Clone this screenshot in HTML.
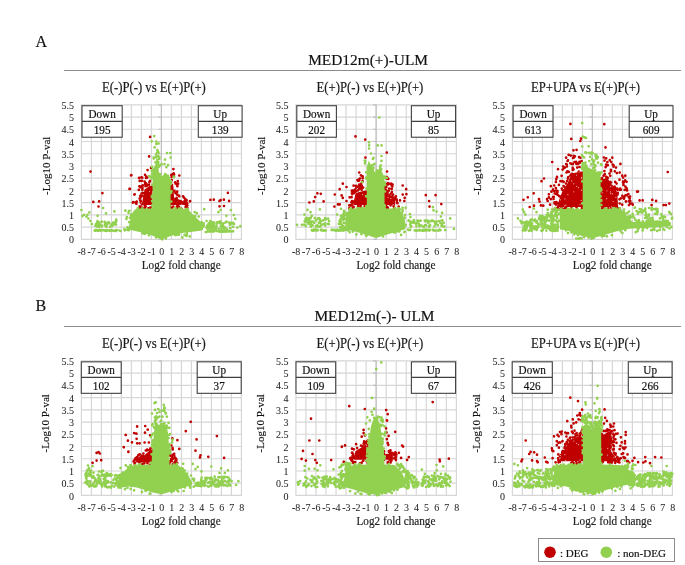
<!DOCTYPE html>
<html><head><meta charset="utf-8"><style>html,body{margin:0;padding:0;background:#fff;width:685px;height:565px;overflow:hidden;position:relative} text{stroke:#1a1a1a;stroke-width:0.18px;paint-order:stroke}</style></head>
<body>
<svg width="685" height="565" viewBox="0 0 685 565" style="position:absolute;left:0;top:0;will-change:transform;filter:blur(0.35px)" font-family="'Liberation Serif', serif">
<rect width="685" height="565" fill="#fff"/>
<text x="35.5" y="47.3" font-size="16" fill="#111">A</text>
<text x="35.5" y="311.4" font-size="16" fill="#111">B</text>
<text x="368.1" y="65" font-size="15.4" text-anchor="middle" fill="#111">MED12m(+)-ULM</text>
<text x="374.5" y="321.4" font-size="15.4" text-anchor="middle" fill="#111">MED12m(-)- ULM</text>
<line x1="64" y1="70.5" x2="681" y2="70.5" stroke="#8c8c8c" stroke-width="1"/>
<line x1="64" y1="326.5" x2="681" y2="326.5" stroke="#8c8c8c" stroke-width="1"/>
<text transform="translate(153.90 92.00) scale(1 1.08)" font-size="12.7" text-anchor="middle" fill="#1a1a1a">E(-)P(-) vs E(+)P(+)</text>
<path d="M81.40 104.3V239.8M91.40 104.3V239.8M101.40 104.3V239.8M111.40 104.3V239.8M121.40 104.3V239.8M131.40 104.3V239.8M141.40 104.3V239.8M151.40 104.3V239.8M161.40 104.3V239.8M171.40 104.3V239.8M181.40 104.3V239.8M191.40 104.3V239.8M201.40 104.3V239.8M211.40 104.3V239.8M221.40 104.3V239.8M231.40 104.3V239.8M241.40 104.3V239.8M80.9 239.30H241.9M80.9 227.08H241.9M80.9 214.85H241.9M80.9 202.62H241.9M80.9 190.40H241.9M80.9 178.18H241.9M80.9 165.95H241.9M80.9 153.73H241.9M80.9 141.50H241.9M80.9 129.28H241.9M80.9 117.05H241.9M80.9 104.83H241.9" stroke="#d6d6d6" stroke-width="1.15" fill="none"/>
<path d="M161.40 104.3V239.8M158.40 239.30H161.40M158.40 227.08H161.40M158.40 214.85H161.40M158.40 202.62H161.40M158.40 190.40H161.40M158.40 178.18H161.40M158.40 165.95H161.40M158.40 153.73H161.40M158.40 141.50H161.40M158.40 129.28H161.40M158.40 117.05H161.40M158.40 104.83H161.40" stroke="#bfbfbf" stroke-width="1.15" fill="none"/>
<text x="74.00" y="243.40" font-size="10" text-anchor="end" fill="#1e1e1e" style="stroke-width:0.05px">0</text>
<text x="74.00" y="231.18" font-size="10" text-anchor="end" fill="#1e1e1e" style="stroke-width:0.05px">0.5</text>
<text x="74.00" y="218.95" font-size="10" text-anchor="end" fill="#1e1e1e" style="stroke-width:0.05px">1</text>
<text x="74.00" y="206.72" font-size="10" text-anchor="end" fill="#1e1e1e" style="stroke-width:0.05px">1.5</text>
<text x="74.00" y="194.50" font-size="10" text-anchor="end" fill="#1e1e1e" style="stroke-width:0.05px">2</text>
<text x="74.00" y="182.28" font-size="10" text-anchor="end" fill="#1e1e1e" style="stroke-width:0.05px">2.5</text>
<text x="74.00" y="170.05" font-size="10" text-anchor="end" fill="#1e1e1e" style="stroke-width:0.05px">3</text>
<text x="74.00" y="157.83" font-size="10" text-anchor="end" fill="#1e1e1e" style="stroke-width:0.05px">3.5</text>
<text x="74.00" y="145.60" font-size="10" text-anchor="end" fill="#1e1e1e" style="stroke-width:0.05px">4</text>
<text x="74.00" y="133.38" font-size="10" text-anchor="end" fill="#1e1e1e" style="stroke-width:0.05px">4.5</text>
<text x="74.00" y="121.15" font-size="10" text-anchor="end" fill="#1e1e1e" style="stroke-width:0.05px">5</text>
<text x="74.00" y="108.93" font-size="10" text-anchor="end" fill="#1e1e1e" style="stroke-width:0.05px">5.5</text>
<text transform="translate(81.70 254.80) scale(1 1.08)" font-size="10" text-anchor="middle" fill="#1e1e1e" style="stroke-width:0.05px">-8</text>
<text transform="translate(91.70 254.80) scale(1 1.08)" font-size="10" text-anchor="middle" fill="#1e1e1e" style="stroke-width:0.05px">-7</text>
<text transform="translate(101.70 254.80) scale(1 1.08)" font-size="10" text-anchor="middle" fill="#1e1e1e" style="stroke-width:0.05px">-6</text>
<text transform="translate(111.70 254.80) scale(1 1.08)" font-size="10" text-anchor="middle" fill="#1e1e1e" style="stroke-width:0.05px">-5</text>
<text transform="translate(121.70 254.80) scale(1 1.08)" font-size="10" text-anchor="middle" fill="#1e1e1e" style="stroke-width:0.05px">-4</text>
<text transform="translate(131.70 254.80) scale(1 1.08)" font-size="10" text-anchor="middle" fill="#1e1e1e" style="stroke-width:0.05px">-3</text>
<text transform="translate(141.70 254.80) scale(1 1.08)" font-size="10" text-anchor="middle" fill="#1e1e1e" style="stroke-width:0.05px">-2</text>
<text transform="translate(151.70 254.80) scale(1 1.08)" font-size="10" text-anchor="middle" fill="#1e1e1e" style="stroke-width:0.05px">-1</text>
<text transform="translate(161.70 254.80) scale(1 1.08)" font-size="10" text-anchor="middle" fill="#1e1e1e" style="stroke-width:0.05px">0</text>
<text transform="translate(171.70 254.80) scale(1 1.08)" font-size="10" text-anchor="middle" fill="#1e1e1e" style="stroke-width:0.05px">1</text>
<text transform="translate(181.70 254.80) scale(1 1.08)" font-size="10" text-anchor="middle" fill="#1e1e1e" style="stroke-width:0.05px">2</text>
<text transform="translate(191.70 254.80) scale(1 1.08)" font-size="10" text-anchor="middle" fill="#1e1e1e" style="stroke-width:0.05px">3</text>
<text transform="translate(201.70 254.80) scale(1 1.08)" font-size="10" text-anchor="middle" fill="#1e1e1e" style="stroke-width:0.05px">4</text>
<text transform="translate(211.70 254.80) scale(1 1.08)" font-size="10" text-anchor="middle" fill="#1e1e1e" style="stroke-width:0.05px">5</text>
<text transform="translate(221.70 254.80) scale(1 1.08)" font-size="10" text-anchor="middle" fill="#1e1e1e" style="stroke-width:0.05px">6</text>
<text transform="translate(231.70 254.80) scale(1 1.08)" font-size="10" text-anchor="middle" fill="#1e1e1e" style="stroke-width:0.05px">7</text>
<text transform="translate(241.70 254.80) scale(1 1.08)" font-size="10" text-anchor="middle" fill="#1e1e1e" style="stroke-width:0.05px">8</text>
<text transform="translate(181.20 269.10) scale(1 1.07)" font-size="11.2" text-anchor="middle" fill="#222">Log2 fold change</text>
<text transform="translate(49.8,165.8) rotate(-90)" font-size="11" text-anchor="middle" fill="#111">-Log10 P-val</text>
<path d="M143.2 205.0L152.4 205.0L152.4 185.6L151.5 185.6L148.7 186.4L146.4 188.3L144.5 189.6L143.8 193.7L142.5 200.3ZM169.4 205.0L185.3 205.0L183.5 201.6L181.2 199.9L174.1 197.9L173.4 185.7L172.4 186.0L169.4 186.3Z" fill="#c00000"/>
<path d="M142.5 207.9h0M140.7 200.9h0M156.4 187.3h0M141.9 204.3h0M145.7 206.3h0M145.2 184.7h0M143.1 208.7h0M139.6 198.6h0M154.6 197.5h0M155.4 195.0h0M141.9 207.5h0M154.3 189.4h0M144.8 205.6h0M140.8 202.5h0M140.2 200.5h0M151.0 207.6h0M153.6 195.4h0M139.7 206.3h0M142.4 188.3h0M143.2 193.2h0M154.4 186.4h0M145.5 186.2h0M150.3 208.3h0M142.0 202.6h0M141.5 193.5h0M142.6 192.8h0M140.3 195.9h0M156.0 183.3h0M155.8 181.7h0M153.4 187.4h0M154.2 182.5h0M155.8 202.4h0M156.2 197.5h0M141.6 208.1h0M146.4 183.9h0M146.9 185.8h0M140.6 197.5h0M146.6 185.1h0M142.5 187.0h0M146.4 184.6h0M149.4 182.2h0M140.1 208.1h0M142.5 196.0h0M154.8 201.9h0M155.1 208.5h0M142.4 189.7h0M148.3 208.3h0M145.1 207.4h0M153.7 195.7h0M149.7 207.8h0M152.5 189.7h0M153.6 187.0h0M145.1 207.8h0M153.6 190.1h0M186.5 200.1h0M186.0 209.0h0M186.0 205.5h0M175.5 183.4h0M179.1 207.0h0M186.1 208.8h0M177.2 207.4h0M165.9 185.1h0M169.5 207.2h0M168.2 182.6h0M177.4 186.2h0M176.0 183.3h0M187.2 203.3h0M176.8 184.4h0M177.2 191.7h0M185.6 207.0h0M166.4 206.0h0M177.4 194.6h0M166.9 204.6h0M184.1 197.7h0M174.5 190.9h0M185.1 203.4h0M186.8 206.0h0M165.8 199.8h0M171.4 208.6h0M173.3 206.5h0M166.8 186.0h0M186.1 201.4h0M168.0 204.4h0M167.8 190.8h0M183.1 196.4h0M177.0 206.4h0M165.5 202.9h0M169.1 199.4h0M185.5 199.4h0M179.3 196.5h0M169.2 200.9h0M186.2 208.6h0M171.9 184.8h0M172.0 208.9h0M166.9 206.6h0M167.8 199.2h0M184.5 201.2h0M178.2 205.8h0M170.9 185.6h0M175.4 192.9h0M176.9 194.4h0M176.6 197.8h0M175.8 193.0h0M187.6 208.3h0M171.3 207.5h0M166.0 190.5h0M181.5 208.8h0M166.1 193.7h0M176.9 208.2h0M179.1 195.7h0M169.6 205.3h0M186.6 200.3h0M169.0 207.6h0M175.7 198.3h0M184.9 200.7h0M176.7 198.6h0M186.3 202.7h0M142.7 185.4h0M140.5 186.5h0M139.4 186.3h0M146.3 176.7h0M144.6 181.6h0M150.0 180.9h0M145.2 183.2h0M142.2 177.7h0M149.0 184.9h0M140.3 187.2h0M147.2 177.6h0M146.0 178.0h0M141.9 180.8h0M141.5 177.3h0M145.8 183.2h0M171.6 176.9h0M175.1 182.4h0M171.8 180.1h0M174.1 174.5h0M171.0 182.5h0M178.1 183.7h0M171.6 175.8h0M172.3 174.7h0M171.3 174.9h0M173.9 176.3h0M90.5 171.6h0M102.4 193.1h0M93.3 201.9h0M99.1 201.4h0M98.5 206.5h0M131.1 175.5h0M129.5 188.9h0M134.3 194.6h0M132.8 202.6h0M136.4 203.8h0M135.4 202.6h0M150.1 136.9h0M149.1 156.4h0M151.1 167.9h0M147.6 170.1h0M131.4 175.2h0M145.0 174.8h0M139.1 177.9h0M139.7 180.9h0M129.9 188.9h0M134.7 194.3h0M133.2 202.1h0M136.8 201.6h0M138.8 189.9h0M173.4 169.1h0M173.7 173.3h0M179.3 175.5h0M177.8 181.1h0M190.1 201.2h0M189.9 201.4h0M187.4 205.6h0M210.4 199.9h0M213.8 199.7h0M219.5 200.9h0M220.6 200.2h0M223.9 199.7h0M227.9 192.8h0M229.1 200.9h0M219.5 206.3h0M224.0 206.0h0" stroke="#c00000" stroke-width="2.7" stroke-linecap="round" fill="none"/>
<path d="M151.1 185.4h0M156.4 205.4h0M152.2 194.3h0M153.9 187.8h0M149.5 191.5h0M147.2 208.9h0M141.7 202.8h0M152.7 183.2h0M175.3 197.0h0M178.9 197.7h0M185.2 209.0h0M181.9 204.3h0M179.2 194.2h0M186.2 209.8h0M179.3 199.0h0M166.0 205.8h0" stroke="#fff" stroke-width="1.2" stroke-linecap="round" fill="none" opacity="0.7"/>
<path d="M156.7 161.6L155.6 164.3L153.4 168.0L152.6 170.0L152.6 208.6L136.8 208.6L135.1 209.4L132.9 212.1L131.3 215.5L130.2 220.1L129.2 225.2L127.8 228.5L128.0 229.6L131.7 230.2L140.7 232.2L152.0 235.6L161.4 239.6L170.9 236.1L182.1 233.1L194.5 231.4L200.1 230.7L203.1 229.9L203.1 223.5L201.3 222.4L197.9 219.3L194.1 215.6L190.5 211.9L188.1 209.3L170.6 208.5L170.6 179.7L169.0 174.7L166.4 173.9L164.3 174.5L161.7 176.3L159.2 174.2L158.5 168.8L157.7 166.4Z" fill="#92d050"/>
<path d="M151.9 171.1h0M171.4 191.2h0M128.9 230.2h0M152.3 177.0h0M152.0 201.1h0M203.1 226.8h0M186.0 209.2h0M195.2 216.2h0M148.9 235.2h0M144.8 233.9h0M178.3 234.3h0M165.1 174.1h0M142.3 208.4h0M127.4 227.7h0M170.8 183.9h0M152.2 174.3h0M156.8 161.6h0M137.9 208.1h0M178.9 234.7h0M159.7 174.0h0M127.4 227.4h0M165.9 238.4h0M152.4 184.7h0M130.0 217.8h0M176.3 235.0h0M158.7 167.1h0M152.5 208.3h0M171.0 181.2h0M171.3 201.5h0M201.6 222.2h0M171.0 192.9h0M175.4 208.0h0M171.1 192.4h0M158.0 164.2h0M170.6 184.2h0M143.1 233.4h0M131.1 215.8h0M151.9 197.1h0M160.4 174.3h0M175.2 235.1h0M129.1 222.0h0M152.1 173.9h0M151.8 196.4h0M179.0 208.5h0M162.3 239.3h0M127.5 229.9h0M170.7 183.5h0M151.9 178.5h0M187.9 209.2h0M155.5 162.4h0M131.2 214.4h0M131.2 215.2h0M203.8 225.5h0M157.1 161.5h0M152.6 195.5h0M158.3 166.0h0M203.7 223.4h0M186.9 232.9h0M158.2 165.9h0M152.0 170.0h0M156.2 237.4h0M142.6 233.0h0M181.1 208.8h0M152.4 205.2h0M129.3 222.3h0M157.9 151.8h0M161.6 164.2h0M196.8 213.2h0M158.1 151.7h0M184.6 234.9h0M205.8 232.1h0M156.2 157.3h0M149.2 176.2h0M124.3 229.0h0M189.8 236.4h0M126.9 217.1h0M159.4 157.2h0M186.6 235.9h0M173.6 176.7h0M126.4 219.0h0M182.4 237.4h0M129.5 210.8h0M128.9 211.2h0M159.9 165.4h0M152.0 166.9h0M159.2 159.0h0M158.5 153.1h0M153.7 158.6h0M194.7 212.1h0M128.5 213.0h0M174.1 177.1h0M150.4 176.6h0M186.9 234.7h0M154.2 136.1h0M151.7 141.3h0M156.3 141.5h0M156.4 143.9h0M158.6 143.5h0M154.7 147.4h0M157.3 150.1h0M157.3 152.5h0M156.0 154.7h0M153.7 157.4h0M158.3 156.2h0M157.4 159.8h0M158.4 162.3h0M167.0 153.0h0M170.3 153.0h0M165.0 159.6h0M170.6 157.6h0M164.5 164.0h0M168.1 165.0h0M166.4 167.2h0M81.4 210.0h0M89.4 212.4h0M87.4 214.9h0M86.4 216.6h0M88.4 218.5h0M90.4 221.0h0M91.9 224.1h0M103.1 208.0h0M97.6 215.8h0M106.0 213.4h0M114.4 211.4h0M125.4 210.7h0M116.2 219.5h0M125.5 210.7h0M204.3 209.2h0M198.7 216.6h0M220.6 210.0h0M218.4 212.2h0M230.9 210.0h0M226.4 215.8h0M233.8 215.1h0M235.3 218.8h0M240.4 226.1h0M237.4 227.6h0M83.9 214.9h0M82.4 216.1h0M104.9 223.7h0M114.8 224.2h0M106.1 223.5h0M99.3 223.9h0M108.6 222.2h0M97.4 225.2h0M97.3 222.1h0M110.0 226.8h0M116.0 221.2h0M109.1 223.3h0M98.7 227.0h0M106.5 226.7h0M99.4 225.6h0M96.0 224.2h0M104.7 221.9h0M106.3 223.2h0M105.9 223.0h0M105.0 225.4h0M116.4 221.0h0M113.0 222.7h0M102.0 225.7h0M101.5 226.6h0M111.5 224.6h0M113.2 224.7h0M115.5 221.9h0M95.4 225.8h0M114.5 224.2h0M116.0 224.6h0M96.9 223.2h0M111.7 225.4h0M97.2 225.0h0M115.6 222.4h0M97.9 225.6h0M97.5 226.7h0M112.1 226.0h0M107.1 224.3h0M99.4 222.6h0M98.2 223.1h0M97.8 224.5h0M99.9 225.4h0M115.8 222.2h0M101.8 221.7h0M99.8 224.7h0M113.3 223.2h0M97.5 221.0h0M109.1 230.3h0M115.1 230.8h0M94.7 230.6h0M102.9 230.2h0M115.8 230.4h0M111.7 230.3h0M98.9 230.6h0M99.4 230.1h0M96.2 230.2h0M96.7 230.3h0M104.8 230.6h0M120.5 231.0h0M96.3 230.1h0M110.2 230.9h0M125.0 230.1h0M97.9 230.6h0M98.6 230.7h0M113.7 230.8h0M116.0 230.9h0M99.7 230.2h0M106.8 230.6h0M112.9 230.5h0M106.3 231.0h0M116.9 230.0h0M124.7 230.3h0M105.4 230.6h0M115.8 230.3h0M97.9 230.8h0M105.7 230.5h0M119.5 230.5h0M95.3 230.2h0M107.7 230.5h0M101.3 230.6h0M106.4 230.2h0M97.6 230.4h0M99.9 230.3h0M95.5 230.7h0M105.1 230.4h0M96.0 230.5h0M100.9 230.7h0M213.7 224.0h0M225.6 222.4h0M211.6 228.3h0M210.5 228.4h0M227.0 229.3h0M221.3 228.5h0M214.7 226.4h0M229.9 224.7h0M206.8 227.9h0M210.5 222.2h0M229.1 222.8h0M229.5 223.4h0M233.0 222.9h0M213.6 222.4h0M220.0 223.3h0M222.2 226.4h0M216.6 226.4h0M215.2 229.4h0M229.4 222.9h0M234.0 223.9h0M221.9 223.4h0M210.2 224.0h0M218.8 228.8h0M212.1 225.5h0M213.5 226.1h0M223.4 226.7h0M210.1 225.8h0M213.0 228.3h0M211.8 227.0h0M208.5 224.3h0M233.1 226.8h0M226.5 221.6h0M207.6 229.1h0M229.0 222.5h0M224.3 229.0h0M218.0 222.2h0M231.2 222.8h0M212.1 222.4h0M216.9 223.7h0M210.2 221.2h0M223.3 223.6h0M212.3 224.6h0M222.7 224.9h0M216.5 223.6h0M216.0 227.7h0M211.0 224.0h0M209.5 228.3h0M208.3 224.4h0M222.0 225.3h0M207.5 226.3h0M216.0 229.6h0M206.5 221.0h0M209.8 227.6h0M213.9 224.8h0M208.6 226.0h0M216.7 222.5h0M206.6 227.3h0M220.3 221.3h0M220.9 226.0h0M225.1 227.7h0M207.3 225.7h0M231.9 223.5h0M213.6 224.0h0M230.2 228.0h0M222.9 227.1h0M213.2 227.8h0M212.1 227.2h0M207.5 226.7h0M208.8 223.3h0M223.2 230.5h0M208.4 231.0h0M223.7 230.8h0M213.0 231.5h0M226.0 231.1h0M213.9 231.1h0M216.5 231.0h0M208.7 231.5h0M230.6 231.4h0M212.7 230.9h0M223.1 231.6h0M220.8 231.1h0M210.0 231.1h0M208.8 231.4h0M207.7 231.5h0M232.8 231.3h0M233.1 231.3h0M222.4 230.9h0M224.6 231.6h0M221.9 231.1h0M210.5 231.6h0M229.9 231.2h0M210.8 231.3h0M211.5 230.9h0M219.4 231.6h0M228.3 231.6h0M213.3 231.7h0M226.1 231.6h0M220.1 231.6h0M218.9 231.1h0M220.4 231.3h0M219.0 231.3h0M222.1 231.6h0M218.7 231.5h0M229.6 230.8h0M207.3 231.6h0" stroke="#92d050" stroke-width="2.7" stroke-linecap="round" fill="none"/>
<rect x="82.00" y="105.73" width="40.2" height="31.5" fill="#fff" stroke="#404040" stroke-width="1.1"/>
<line x1="82.00" y1="121.33" x2="122.20" y2="121.33" stroke="#404040" stroke-width="1.1"/>
<text transform="translate(102.10 118.33) scale(1 1.15)" font-size="11.2" text-anchor="middle" fill="#111">Down</text>
<text transform="translate(102.10 133.93) scale(1 1.15)" font-size="11.2" text-anchor="middle" fill="#111">195</text>
<rect x="198.30" y="105.73" width="43.8" height="31.5" fill="#fff" stroke="#404040" stroke-width="1.1"/>
<line x1="198.30" y1="121.33" x2="242.10" y2="121.33" stroke="#404040" stroke-width="1.1"/>
<text transform="translate(220.20 118.33) scale(1 1.15)" font-size="11.2" text-anchor="middle" fill="#111">Up</text>
<text transform="translate(220.20 133.93) scale(1 1.15)" font-size="11.2" text-anchor="middle" fill="#111">139</text>
<text transform="translate(369.94 92.00) scale(1 1.08)" font-size="12.7" text-anchor="middle" fill="#1a1a1a">E(+)P(-) vs E(+)P(+)</text>
<path d="M295.90 104.3V239.8M305.93 104.3V239.8M315.96 104.3V239.8M325.99 104.3V239.8M336.02 104.3V239.8M346.05 104.3V239.8M356.08 104.3V239.8M366.11 104.3V239.8M376.14 104.3V239.8M386.17 104.3V239.8M396.20 104.3V239.8M406.23 104.3V239.8M416.26 104.3V239.8M426.29 104.3V239.8M436.32 104.3V239.8M446.35 104.3V239.8M456.38 104.3V239.8M295.4 239.30H456.9M295.4 227.08H456.9M295.4 214.85H456.9M295.4 202.62H456.9M295.4 190.40H456.9M295.4 178.18H456.9M295.4 165.95H456.9M295.4 153.73H456.9M295.4 141.50H456.9M295.4 129.28H456.9M295.4 117.05H456.9M295.4 104.83H456.9" stroke="#d6d6d6" stroke-width="1.15" fill="none"/>
<path d="M376.14 104.3V239.8M373.14 239.30H376.14M373.14 227.08H376.14M373.14 214.85H376.14M373.14 202.62H376.14M373.14 190.40H376.14M373.14 178.18H376.14M373.14 165.95H376.14M373.14 153.73H376.14M373.14 141.50H376.14M373.14 129.28H376.14M373.14 117.05H376.14M373.14 104.83H376.14" stroke="#bfbfbf" stroke-width="1.15" fill="none"/>
<text x="288.50" y="243.40" font-size="10" text-anchor="end" fill="#1e1e1e" style="stroke-width:0.05px">0</text>
<text x="288.50" y="231.18" font-size="10" text-anchor="end" fill="#1e1e1e" style="stroke-width:0.05px">0.5</text>
<text x="288.50" y="218.95" font-size="10" text-anchor="end" fill="#1e1e1e" style="stroke-width:0.05px">1</text>
<text x="288.50" y="206.72" font-size="10" text-anchor="end" fill="#1e1e1e" style="stroke-width:0.05px">1.5</text>
<text x="288.50" y="194.50" font-size="10" text-anchor="end" fill="#1e1e1e" style="stroke-width:0.05px">2</text>
<text x="288.50" y="182.28" font-size="10" text-anchor="end" fill="#1e1e1e" style="stroke-width:0.05px">2.5</text>
<text x="288.50" y="170.05" font-size="10" text-anchor="end" fill="#1e1e1e" style="stroke-width:0.05px">3</text>
<text x="288.50" y="157.83" font-size="10" text-anchor="end" fill="#1e1e1e" style="stroke-width:0.05px">3.5</text>
<text x="288.50" y="145.60" font-size="10" text-anchor="end" fill="#1e1e1e" style="stroke-width:0.05px">4</text>
<text x="288.50" y="133.38" font-size="10" text-anchor="end" fill="#1e1e1e" style="stroke-width:0.05px">4.5</text>
<text x="288.50" y="121.15" font-size="10" text-anchor="end" fill="#1e1e1e" style="stroke-width:0.05px">5</text>
<text x="288.50" y="108.93" font-size="10" text-anchor="end" fill="#1e1e1e" style="stroke-width:0.05px">5.5</text>
<text transform="translate(296.20 254.80) scale(1 1.08)" font-size="10" text-anchor="middle" fill="#1e1e1e" style="stroke-width:0.05px">-8</text>
<text transform="translate(306.23 254.80) scale(1 1.08)" font-size="10" text-anchor="middle" fill="#1e1e1e" style="stroke-width:0.05px">-7</text>
<text transform="translate(316.26 254.80) scale(1 1.08)" font-size="10" text-anchor="middle" fill="#1e1e1e" style="stroke-width:0.05px">-6</text>
<text transform="translate(326.29 254.80) scale(1 1.08)" font-size="10" text-anchor="middle" fill="#1e1e1e" style="stroke-width:0.05px">-5</text>
<text transform="translate(336.32 254.80) scale(1 1.08)" font-size="10" text-anchor="middle" fill="#1e1e1e" style="stroke-width:0.05px">-4</text>
<text transform="translate(346.35 254.80) scale(1 1.08)" font-size="10" text-anchor="middle" fill="#1e1e1e" style="stroke-width:0.05px">-3</text>
<text transform="translate(356.38 254.80) scale(1 1.08)" font-size="10" text-anchor="middle" fill="#1e1e1e" style="stroke-width:0.05px">-2</text>
<text transform="translate(366.41 254.80) scale(1 1.08)" font-size="10" text-anchor="middle" fill="#1e1e1e" style="stroke-width:0.05px">-1</text>
<text transform="translate(376.44 254.80) scale(1 1.08)" font-size="10" text-anchor="middle" fill="#1e1e1e" style="stroke-width:0.05px">0</text>
<text transform="translate(386.47 254.80) scale(1 1.08)" font-size="10" text-anchor="middle" fill="#1e1e1e" style="stroke-width:0.05px">1</text>
<text transform="translate(396.50 254.80) scale(1 1.08)" font-size="10" text-anchor="middle" fill="#1e1e1e" style="stroke-width:0.05px">2</text>
<text transform="translate(406.53 254.80) scale(1 1.08)" font-size="10" text-anchor="middle" fill="#1e1e1e" style="stroke-width:0.05px">3</text>
<text transform="translate(416.56 254.80) scale(1 1.08)" font-size="10" text-anchor="middle" fill="#1e1e1e" style="stroke-width:0.05px">4</text>
<text transform="translate(426.59 254.80) scale(1 1.08)" font-size="10" text-anchor="middle" fill="#1e1e1e" style="stroke-width:0.05px">5</text>
<text transform="translate(436.62 254.80) scale(1 1.08)" font-size="10" text-anchor="middle" fill="#1e1e1e" style="stroke-width:0.05px">6</text>
<text transform="translate(446.65 254.80) scale(1 1.08)" font-size="10" text-anchor="middle" fill="#1e1e1e" style="stroke-width:0.05px">7</text>
<text transform="translate(456.68 254.80) scale(1 1.08)" font-size="10" text-anchor="middle" fill="#1e1e1e" style="stroke-width:0.05px">8</text>
<text transform="translate(395.94 269.10) scale(1 1.07)" font-size="11.2" text-anchor="middle" fill="#222">Log2 fold change</text>
<text transform="translate(265.2,165.8) rotate(-90)" font-size="11" text-anchor="middle" fill="#111">-Log10 P-val</text>
<path d="M367.1 205.0L367.1 190.5L365.6 190.5L361.3 191.6L357.4 192.6L355.5 193.6L355.0 196.1L353.1 204.2L353.1 205.0ZM384.1 205.0L395.1 205.0L395.1 199.4L388.7 195.7L388.7 190.6L387.0 189.4L384.7 187.2L384.1 187.3Z" fill="#c00000"/>
<path d="M353.1 201.4h0M356.4 191.0h0M354.9 192.2h0M368.2 207.7h0M354.2 191.8h0M353.5 201.7h0M368.3 205.3h0M353.8 193.2h0M349.2 208.4h0M360.7 205.0h0M351.6 197.2h0M369.4 189.8h0M352.6 191.2h0M351.3 202.3h0M367.2 198.7h0M353.6 206.9h0M360.7 208.6h0M352.0 202.0h0M368.6 197.2h0M352.2 194.1h0M367.7 193.3h0M351.8 208.8h0M361.7 189.8h0M352.6 203.1h0M359.2 188.8h0M358.2 206.2h0M369.0 189.9h0M352.9 204.1h0M370.2 202.9h0M367.3 207.4h0M370.5 198.3h0M369.6 192.4h0M350.7 205.4h0M351.9 193.2h0M362.0 188.0h0M369.7 202.7h0M371.0 186.8h0M369.5 204.5h0M355.1 191.3h0M351.4 205.4h0M367.5 192.4h0M367.4 203.9h0M360.8 188.5h0M364.7 206.1h0M368.6 207.8h0M352.6 208.4h0M360.7 206.9h0M366.2 205.8h0M369.7 190.8h0M371.0 186.9h0M355.2 192.0h0M352.1 201.0h0M369.5 198.0h0M355.0 189.6h0M387.3 207.1h0M396.7 199.5h0M381.0 207.7h0M382.5 200.8h0M395.9 196.3h0M395.2 199.2h0M382.1 208.3h0M391.2 193.7h0M383.7 187.1h0M390.8 196.3h0M382.6 205.7h0M380.9 187.4h0M389.7 195.5h0M381.2 204.2h0M385.5 184.2h0M392.1 194.8h0M389.2 188.6h0M391.9 192.0h0M381.4 186.3h0M381.9 200.7h0M396.9 202.6h0M384.3 186.7h0M383.3 197.8h0M391.9 197.0h0M388.7 190.8h0M389.5 194.8h0M393.1 194.6h0M386.9 208.6h0M382.2 202.6h0M393.6 197.7h0M391.7 188.9h0M380.5 202.4h0M385.1 185.8h0M395.5 198.3h0M380.8 196.4h0M383.3 205.5h0M385.3 207.4h0M387.9 208.1h0M381.9 198.4h0M390.6 205.3h0M381.6 206.7h0M386.3 187.2h0M380.2 190.4h0M394.2 208.5h0M381.2 195.6h0M397.5 203.2h0M387.0 184.7h0M381.1 185.4h0M382.6 198.1h0M396.8 200.4h0M393.6 206.2h0M386.1 206.4h0M398.7 206.6h0M381.0 205.1h0M352.5 191.0h0M358.7 186.3h0M358.3 179.9h0M361.0 183.9h0M361.7 185.7h0M362.6 181.1h0M360.9 175.3h0M359.8 184.9h0M362.6 176.4h0M360.9 187.2h0M351.9 191.0h0M359.3 184.6h0M352.8 190.5h0M362.7 178.2h0M356.1 185.8h0M357.4 180.1h0M356.9 187.1h0M356.4 187.5h0M358.1 190.3h0M359.9 178.6h0M363.1 187.6h0M352.0 190.5h0M359.9 187.6h0M359.2 180.6h0M361.0 186.1h0M388.3 179.0h0M391.7 185.7h0M387.9 183.1h0M386.5 178.6h0M391.1 183.7h0M387.9 184.4h0M392.3 186.0h0M387.0 177.1h0M392.6 184.6h0M392.3 186.4h0M389.1 183.8h0M392.4 184.8h0M355.5 136.4h0M365.2 139.6h0M365.4 157.6h0M386.8 152.5h0M359.2 172.5h0M387.1 171.5h0M387.7 178.3h0M353.6 185.7h0M358.0 180.8h0M362.3 182.0h0M317.4 193.3h0M320.8 193.8h0M315.2 197.1h0M309.4 202.5h0M313.8 201.4h0M323.6 201.4h0M334.8 194.5h0M342.8 183.7h0M339.7 189.2h0M346.5 187.0h0M341.6 195.4h0M342.8 197.9h0M349.6 197.3h0M346.5 201.0h0M334.4 206.6h0M337.9 204.4h0M339.7 204.4h0M349.3 205.4h0M402.7 185.5h0M406.2 189.2h0M402.7 194.6h0M406.4 194.2h0M404.7 197.9h0M404.3 201.0h0M400.0 200.4h0M425.8 195.2h0M435.6 195.2h0M429.1 201.0h0M429.5 206.6h0M441.3 204.1h0" stroke="#c00000" stroke-width="2.7" stroke-linecap="round" fill="none"/>
<path d="M364.5 189.5h0M370.9 206.2h0M365.9 196.9h0M368.0 191.5h0M362.6 194.6h0M359.9 209.1h0M353.3 204.0h0M366.5 187.6h0M388.0 197.7h0M390.8 198.4h0M395.9 209.0h0M393.2 204.6h0M391.1 195.1h0M396.7 209.8h0" stroke="#fff" stroke-width="1.2" stroke-linecap="round" fill="none" opacity="0.7"/>
<path d="M368.9 160.4L367.8 163.9L366.8 166.3L366.8 208.6L351.3 208.6L349.3 209.1L347.7 211.9L345.8 217.6L345.3 227.0L345.7 229.3L346.5 229.5L356.0 231.7L366.7 235.1L376.1 238.1L385.6 235.1L393.2 232.7L405.2 229.3L405.7 226.8L404.7 219.1L401.6 213.0L399.1 208.6L384.5 208.6L384.5 177.3L382.5 172.8L380.1 168.2L379.8 167.7L378.5 169.6L374.9 172.5L372.6 166.9L370.6 164.4Z" fill="#92d050"/>
<path d="M395.0 232.5h0M366.5 235.7h0M345.2 219.1h0M366.1 196.0h0M394.4 232.6h0M405.8 225.0h0M345.0 218.8h0M371.9 165.4h0M376.7 170.4h0M347.5 229.7h0M384.6 182.3h0M394.9 208.2h0M372.3 165.6h0M345.0 223.2h0M385.1 191.5h0M362.2 207.8h0M384.7 183.1h0M365.9 235.3h0M366.3 177.6h0M345.0 229.9h0M384.7 184.8h0M344.7 227.7h0M357.5 208.1h0M361.4 234.2h0M398.6 208.0h0M366.2 172.3h0M399.9 209.3h0M381.3 169.3h0M350.8 208.6h0M380.2 167.1h0M366.4 188.5h0M384.7 205.4h0M349.7 209.0h0M359.8 208.5h0M345.8 229.9h0M366.3 196.3h0M373.5 168.2h0M404.6 217.9h0M348.3 230.5h0M383.1 236.5h0M366.3 206.2h0M385.0 177.7h0M397.8 231.5h0M401.8 213.4h0M360.0 208.5h0M381.0 169.2h0M346.0 214.9h0M385.2 185.1h0M363.3 208.4h0M346.8 213.2h0M399.5 231.3h0M366.1 208.2h0M384.7 206.3h0M366.5 178.7h0M346.6 214.3h0M384.8 176.5h0M380.5 168.6h0M384.6 208.4h0M372.2 165.4h0M352.8 231.6h0M380.7 165.4h0M342.2 215.6h0M364.7 160.5h0M344.3 212.0h0M386.9 177.8h0M402.6 210.2h0M372.9 158.9h0M404.8 215.2h0M343.4 219.8h0M344.0 210.9h0M365.0 163.3h0M365.2 161.3h0M404.3 232.1h0M374.4 163.9h0M404.7 231.8h0M343.1 230.5h0M343.6 213.6h0M349.7 232.3h0M365.0 163.4h0M409.1 221.0h0M342.2 216.8h0M341.9 229.0h0M341.6 218.5h0M401.1 234.9h0M356.4 234.4h0M362.3 182.2h0M343.0 217.1h0M344.6 215.0h0M343.4 214.4h0M344.8 228.3h0M338.8 223.9h0M339.6 221.2h0M344.0 214.2h0M342.9 216.9h0M343.9 216.5h0M342.6 229.5h0M342.0 216.7h0M339.0 224.0h0M343.7 226.5h0M340.3 221.6h0M340.3 219.6h0M343.5 226.5h0M341.0 228.5h0M342.8 219.1h0M341.0 216.2h0M343.4 215.0h0M342.0 225.2h0M343.8 229.3h0M340.0 227.4h0M342.1 225.5h0M341.1 221.5h0M344.9 218.8h0M341.0 224.0h0M344.1 228.9h0M343.7 222.9h0M341.6 227.6h0M314.2 222.8h0M325.7 219.4h0M309.5 218.0h0M306.7 217.8h0M307.8 222.5h0M328.9 224.2h0M313.4 221.5h0M321.3 220.8h0M305.6 225.6h0M319.5 218.8h0M305.6 218.6h0M328.1 218.7h0M319.7 226.8h0M304.7 221.3h0M315.9 226.3h0M308.6 220.1h0M310.1 218.2h0M320.9 225.3h0M314.9 218.1h0M321.9 224.6h0M320.4 220.8h0M324.9 223.6h0M318.8 222.8h0M309.7 222.0h0M324.0 224.1h0M312.6 225.4h0M325.1 218.1h0M307.8 219.8h0M304.1 224.7h0M320.2 222.8h0M329.1 221.1h0M308.8 218.8h0M312.4 225.5h0M319.2 218.3h0M314.8 218.2h0M319.6 218.9h0M308.3 223.7h0M325.0 223.5h0M311.2 223.7h0M310.7 217.8h0M310.7 224.1h0M319.7 219.5h0M325.1 225.5h0M310.9 226.7h0M310.4 218.3h0M316.8 225.8h0M319.0 222.8h0M316.2 220.4h0M311.4 221.5h0M317.7 226.5h0M305.6 220.1h0M327.8 223.9h0M305.7 221.8h0M320.3 226.2h0M305.9 226.1h0M323.4 220.3h0M317.3 225.4h0M310.0 224.3h0M318.0 218.4h0M310.7 221.6h0M320.8 230.1h0M314.1 229.9h0M313.8 229.5h0M321.2 229.7h0M322.2 230.4h0M312.5 230.3h0M316.0 230.5h0M337.3 229.8h0M341.2 230.4h0M313.9 230.0h0M336.0 230.7h0M317.3 229.8h0M338.6 230.7h0M314.5 229.6h0M337.8 229.9h0M324.9 230.6h0M337.6 230.3h0M341.9 230.4h0M339.8 230.3h0M332.2 229.6h0M343.4 230.6h0M323.6 230.3h0M311.8 230.1h0M333.2 229.9h0M325.9 230.5h0M316.3 230.1h0M314.3 230.0h0M342.4 230.3h0M312.2 230.6h0M334.5 230.2h0M321.4 229.9h0M317.7 230.3h0M313.0 230.7h0M314.8 230.3h0M331.6 230.0h0M321.0 230.1h0M322.9 230.7h0M334.0 230.2h0M334.6 230.1h0M316.5 229.5h0M440.5 222.9h0M429.3 226.1h0M415.9 223.7h0M429.1 226.7h0M408.6 220.7h0M419.3 225.8h0M438.8 221.1h0M441.6 223.8h0M443.4 226.6h0M410.9 226.9h0M425.2 221.3h0M424.8 220.7h0M435.3 223.9h0M411.5 221.8h0M426.3 225.5h0M417.7 220.9h0M420.6 220.7h0M419.9 226.2h0M414.3 222.3h0M436.2 221.6h0M411.7 221.9h0M430.1 225.1h0M432.6 220.7h0M418.0 221.0h0M428.3 222.7h0M435.4 224.1h0M429.1 221.4h0M427.6 220.7h0M411.2 226.1h0M413.9 220.2h0M434.1 221.5h0M418.6 224.1h0M442.4 220.4h0M431.6 220.5h0M436.3 222.7h0M410.6 222.9h0M431.6 221.1h0M421.6 225.5h0M437.9 225.2h0M425.0 225.0h0M413.0 222.8h0M419.0 221.1h0M409.0 220.6h0M443.7 222.8h0M419.3 224.7h0M434.4 226.3h0M441.4 220.6h0M416.6 222.9h0M418.8 224.0h0M416.4 226.3h0M419.6 226.3h0M441.9 224.7h0M417.6 220.6h0M444.4 226.5h0M425.7 220.6h0M435.8 222.2h0M423.7 226.9h0M441.6 226.0h0M410.2 224.7h0M429.9 225.1h0M419.2 230.0h0M422.6 229.9h0M424.6 230.0h0M408.8 230.0h0M408.2 229.6h0M416.3 230.7h0M423.6 230.2h0M438.1 230.6h0M426.4 229.8h0M425.0 230.0h0M439.5 229.6h0M420.0 230.4h0M427.6 230.2h0M432.9 229.8h0M435.6 230.6h0M408.6 229.9h0M419.6 230.0h0M425.5 229.8h0M429.2 230.6h0M438.5 230.6h0M414.8 230.4h0M433.3 230.3h0M430.0 229.9h0M433.3 229.8h0M426.0 229.8h0M425.3 229.6h0M417.9 230.5h0M416.1 230.4h0M434.2 230.3h0M428.4 229.8h0M423.7 230.7h0M440.4 230.2h0M422.3 230.7h0M425.7 230.5h0M410.2 229.8h0M369.1 142.3h0M369.1 145.4h0M369.1 148.5h0M371.0 153.5h0M373.5 157.8h0M381.5 156.0h0M381.5 160.9h0M377.8 145.4h0M381.5 145.4h0M307.5 209.9h0M310.6 212.2h0M319.9 209.4h0M341.0 208.8h0M304.4 214.6h0M311.8 215.9h0M318.4 218.4h0M297.0 224.8h0M301.9 224.8h0M337.2 214.6h0M402.5 207.8h0M405.6 207.8h0M402.5 211.5h0M409.9 214.0h0M410.5 217.1h0M433.5 210.3h0M436.6 211.5h0M432.9 207.2h0M442.1 212.8h0M440.9 216.5h0M450.2 218.4h0M453.9 228.9h0M445.2 230.1h0M379.3 117.5h0" stroke="#92d050" stroke-width="2.7" stroke-linecap="round" fill="none"/>
<rect x="296.80" y="105.73" width="39.6" height="31.5" fill="#fff" stroke="#404040" stroke-width="1.1"/>
<line x1="296.80" y1="121.33" x2="336.40" y2="121.33" stroke="#404040" stroke-width="1.1"/>
<text transform="translate(316.60 118.33) scale(1 1.15)" font-size="11.2" text-anchor="middle" fill="#111">Down</text>
<text transform="translate(316.60 133.93) scale(1 1.15)" font-size="11.2" text-anchor="middle" fill="#111">202</text>
<rect x="411.38" y="105.73" width="44.2" height="31.5" fill="#fff" stroke="#404040" stroke-width="1.1"/>
<line x1="411.38" y1="121.33" x2="455.58" y2="121.33" stroke="#404040" stroke-width="1.1"/>
<text transform="translate(433.48 118.33) scale(1 1.15)" font-size="11.2" text-anchor="middle" fill="#111">Up</text>
<text transform="translate(433.48 133.93) scale(1 1.15)" font-size="11.2" text-anchor="middle" fill="#111">85</text>
<text transform="translate(585.50 92.00) scale(1 1.08)" font-size="12.7" text-anchor="middle" fill="#1a1a1a">EP+UPA vs E(+)P(+)</text>
<path d="M512.40 104.3V239.8M522.40 104.3V239.8M532.40 104.3V239.8M542.40 104.3V239.8M552.40 104.3V239.8M562.40 104.3V239.8M572.40 104.3V239.8M582.40 104.3V239.8M592.40 104.3V239.8M602.40 104.3V239.8M612.40 104.3V239.8M622.40 104.3V239.8M632.40 104.3V239.8M642.40 104.3V239.8M652.40 104.3V239.8M662.40 104.3V239.8M672.40 104.3V239.8M511.9 239.30H672.9M511.9 227.08H672.9M511.9 214.85H672.9M511.9 202.62H672.9M511.9 190.40H672.9M511.9 178.18H672.9M511.9 165.95H672.9M511.9 153.73H672.9M511.9 141.50H672.9M511.9 129.28H672.9M511.9 117.05H672.9M511.9 104.83H672.9" stroke="#d6d6d6" stroke-width="1.15" fill="none"/>
<path d="M592.40 104.3V239.8M589.40 239.30H592.40M589.40 227.08H592.40M589.40 214.85H592.40M589.40 202.62H592.40M589.40 190.40H592.40M589.40 178.18H592.40M589.40 165.95H592.40M589.40 153.73H592.40M589.40 141.50H592.40M589.40 129.28H592.40M589.40 117.05H592.40M589.40 104.83H592.40" stroke="#bfbfbf" stroke-width="1.15" fill="none"/>
<text x="505.00" y="243.40" font-size="10" text-anchor="end" fill="#1e1e1e" style="stroke-width:0.05px">0</text>
<text x="505.00" y="231.18" font-size="10" text-anchor="end" fill="#1e1e1e" style="stroke-width:0.05px">0.5</text>
<text x="505.00" y="218.95" font-size="10" text-anchor="end" fill="#1e1e1e" style="stroke-width:0.05px">1</text>
<text x="505.00" y="206.72" font-size="10" text-anchor="end" fill="#1e1e1e" style="stroke-width:0.05px">1.5</text>
<text x="505.00" y="194.50" font-size="10" text-anchor="end" fill="#1e1e1e" style="stroke-width:0.05px">2</text>
<text x="505.00" y="182.28" font-size="10" text-anchor="end" fill="#1e1e1e" style="stroke-width:0.05px">2.5</text>
<text x="505.00" y="170.05" font-size="10" text-anchor="end" fill="#1e1e1e" style="stroke-width:0.05px">3</text>
<text x="505.00" y="157.83" font-size="10" text-anchor="end" fill="#1e1e1e" style="stroke-width:0.05px">3.5</text>
<text x="505.00" y="145.60" font-size="10" text-anchor="end" fill="#1e1e1e" style="stroke-width:0.05px">4</text>
<text x="505.00" y="133.38" font-size="10" text-anchor="end" fill="#1e1e1e" style="stroke-width:0.05px">4.5</text>
<text x="505.00" y="121.15" font-size="10" text-anchor="end" fill="#1e1e1e" style="stroke-width:0.05px">5</text>
<text x="505.00" y="108.93" font-size="10" text-anchor="end" fill="#1e1e1e" style="stroke-width:0.05px">5.5</text>
<text transform="translate(512.70 254.80) scale(1 1.08)" font-size="10" text-anchor="middle" fill="#1e1e1e" style="stroke-width:0.05px">-8</text>
<text transform="translate(522.70 254.80) scale(1 1.08)" font-size="10" text-anchor="middle" fill="#1e1e1e" style="stroke-width:0.05px">-7</text>
<text transform="translate(532.70 254.80) scale(1 1.08)" font-size="10" text-anchor="middle" fill="#1e1e1e" style="stroke-width:0.05px">-6</text>
<text transform="translate(542.70 254.80) scale(1 1.08)" font-size="10" text-anchor="middle" fill="#1e1e1e" style="stroke-width:0.05px">-5</text>
<text transform="translate(552.70 254.80) scale(1 1.08)" font-size="10" text-anchor="middle" fill="#1e1e1e" style="stroke-width:0.05px">-4</text>
<text transform="translate(562.70 254.80) scale(1 1.08)" font-size="10" text-anchor="middle" fill="#1e1e1e" style="stroke-width:0.05px">-3</text>
<text transform="translate(572.70 254.80) scale(1 1.08)" font-size="10" text-anchor="middle" fill="#1e1e1e" style="stroke-width:0.05px">-2</text>
<text transform="translate(582.70 254.80) scale(1 1.08)" font-size="10" text-anchor="middle" fill="#1e1e1e" style="stroke-width:0.05px">-1</text>
<text transform="translate(592.70 254.80) scale(1 1.08)" font-size="10" text-anchor="middle" fill="#1e1e1e" style="stroke-width:0.05px">0</text>
<text transform="translate(602.70 254.80) scale(1 1.08)" font-size="10" text-anchor="middle" fill="#1e1e1e" style="stroke-width:0.05px">1</text>
<text transform="translate(612.70 254.80) scale(1 1.08)" font-size="10" text-anchor="middle" fill="#1e1e1e" style="stroke-width:0.05px">2</text>
<text transform="translate(622.70 254.80) scale(1 1.08)" font-size="10" text-anchor="middle" fill="#1e1e1e" style="stroke-width:0.05px">3</text>
<text transform="translate(632.70 254.80) scale(1 1.08)" font-size="10" text-anchor="middle" fill="#1e1e1e" style="stroke-width:0.05px">4</text>
<text transform="translate(642.70 254.80) scale(1 1.08)" font-size="10" text-anchor="middle" fill="#1e1e1e" style="stroke-width:0.05px">5</text>
<text transform="translate(652.70 254.80) scale(1 1.08)" font-size="10" text-anchor="middle" fill="#1e1e1e" style="stroke-width:0.05px">6</text>
<text transform="translate(662.70 254.80) scale(1 1.08)" font-size="10" text-anchor="middle" fill="#1e1e1e" style="stroke-width:0.05px">7</text>
<text transform="translate(672.70 254.80) scale(1 1.08)" font-size="10" text-anchor="middle" fill="#1e1e1e" style="stroke-width:0.05px">8</text>
<text transform="translate(612.20 269.10) scale(1 1.07)" font-size="11.2" text-anchor="middle" fill="#222">Log2 fold change</text>
<text transform="translate(481.0,165.8) rotate(-90)" font-size="11" text-anchor="middle" fill="#111">-Log10 P-val</text>
<path d="M556.7 207.0L584.4 207.0L584.4 171.4L581.2 171.4L576.1 172.5L571.9 173.6L567.4 183.5L562.5 191.0L558.9 200.5ZM599.4 207.0L618.1 207.0L618.0 205.8L617.4 193.8L615.8 188.6L611.2 184.0L608.0 178.8L605.4 178.6L605.4 178.7L599.4 178.7Z" fill="#c00000"/>
<path d="M557.2 208.4h0M564.3 208.5h0M562.5 190.0h0M584.9 204.1h0M560.3 196.6h0M585.2 170.0h0M565.9 183.6h0M583.2 208.1h0M554.9 208.9h0M584.6 178.2h0M584.8 175.8h0M576.8 208.1h0M556.2 202.7h0M556.6 203.4h0M586.2 207.6h0M568.3 177.2h0M561.4 207.6h0M584.5 188.6h0M585.1 200.0h0M556.4 203.2h0M563.7 186.0h0M585.3 206.1h0M585.3 203.8h0M571.6 207.9h0M585.4 194.4h0M571.6 173.8h0M566.2 207.9h0M559.1 196.1h0M581.9 208.3h0M576.4 207.1h0M586.3 180.3h0M565.4 207.3h0M559.7 208.5h0M557.1 203.3h0M567.1 181.1h0M556.4 202.0h0M570.4 175.5h0M584.9 205.1h0M585.9 182.6h0M585.5 205.4h0M558.0 207.3h0M561.4 208.2h0M582.6 207.0h0M564.2 186.7h0M578.8 171.7h0M557.0 208.4h0M554.8 208.5h0M556.0 204.6h0M584.7 194.1h0M582.7 208.3h0M584.8 190.2h0M582.9 208.0h0M584.5 178.1h0M584.4 191.0h0M561.8 188.6h0M582.0 207.6h0M585.1 182.6h0M585.7 191.0h0M586.3 199.2h0M584.5 173.7h0M603.9 207.5h0M598.0 195.6h0M598.6 177.4h0M604.8 174.2h0M618.2 190.2h0M616.2 207.8h0M606.3 178.6h0M611.0 207.6h0M597.8 195.2h0M617.8 193.1h0M597.6 186.9h0M598.6 183.8h0M610.3 182.2h0M617.6 194.6h0M607.8 177.8h0M603.1 208.9h0M619.5 199.3h0M606.5 178.4h0M611.0 182.5h0M604.8 208.6h0M615.0 187.3h0M614.5 186.6h0M603.7 175.8h0M617.3 188.5h0M598.4 177.7h0M604.1 175.4h0M617.1 207.7h0M602.0 208.3h0M604.1 208.8h0M619.3 208.4h0M601.9 178.0h0M597.5 186.8h0M598.0 187.9h0M606.4 176.8h0M610.1 182.0h0M599.2 194.5h0M616.0 188.9h0M598.4 181.2h0M597.8 190.7h0M617.0 208.9h0M606.6 178.7h0M614.1 207.5h0M608.2 208.3h0M619.7 203.6h0M618.8 208.6h0M607.1 178.3h0M597.8 198.4h0M604.4 171.0h0M597.6 191.0h0M599.0 178.2h0M597.7 200.3h0M556.3 179.2h0M553.7 196.9h0M555.9 181.9h0M567.4 171.3h0M554.2 185.5h0M554.7 193.5h0M567.6 161.0h0M579.6 157.5h0M576.3 163.8h0M577.2 167.6h0M573.9 157.5h0M579.6 167.0h0M548.9 194.3h0M557.5 194.7h0M558.9 184.9h0M576.6 163.2h0M573.3 169.5h0M553.0 197.1h0M557.3 192.3h0M573.9 157.2h0M553.6 199.0h0M580.4 157.8h0M579.8 162.8h0M574.5 162.0h0M574.9 156.4h0M548.9 197.4h0M573.7 155.9h0M566.5 172.5h0M562.6 169.6h0M554.6 202.4h0M572.7 167.9h0M573.0 158.0h0M554.1 191.1h0M571.9 164.0h0M553.1 189.7h0M555.9 188.1h0M555.8 193.8h0M563.7 181.8h0M557.1 191.6h0M576.1 161.9h0M557.5 191.1h0M566.9 166.5h0M564.4 168.0h0M563.1 166.5h0M572.7 169.9h0M553.0 189.7h0M560.4 181.2h0M566.8 164.7h0M568.8 171.9h0M566.2 164.1h0M561.6 175.8h0M573.5 169.4h0M568.0 160.3h0M579.4 161.9h0M572.4 163.9h0M625.1 180.4h0M609.5 173.5h0M606.2 164.7h0M610.8 169.9h0M628.9 201.2h0M630.0 203.7h0M620.8 189.8h0M606.9 165.4h0M624.3 196.9h0M623.1 177.6h0M623.1 182.7h0M607.8 165.2h0M616.6 183.6h0M625.6 195.3h0M628.8 197.3h0M624.0 198.7h0M625.9 201.3h0M619.4 189.8h0M606.2 158.3h0M625.5 186.7h0M613.5 166.6h0M629.7 198.6h0M612.7 164.6h0M613.6 165.4h0M627.1 190.5h0M620.2 188.7h0M620.9 198.3h0M623.1 181.6h0M611.2 162.0h0M624.2 197.8h0M627.0 195.2h0M623.9 182.3h0M630.1 196.5h0M626.8 188.6h0M616.9 173.1h0M619.5 179.7h0M610.9 171.2h0M604.5 160.6h0M610.3 175.8h0M619.7 172.6h0M632.0 203.5h0M629.0 205.1h0M615.2 181.9h0M605.6 167.2h0M622.3 195.8h0M570.4 123.9h0M571.3 138.9h0M581.0 138.7h0M580.3 141.0h0M573.5 150.3h0M576.6 149.9h0M568.6 154.8h0M570.8 155.6h0M566.1 157.7h0M579.1 157.1h0M552.2 162.0h0M570.4 163.3h0M572.9 164.1h0M577.9 164.1h0M581.6 161.0h0M558.0 169.2h0M564.8 167.6h0M604.3 124.2h0M605.5 147.4h0M603.9 157.5h0M612.3 157.7h0M609.8 160.2h0M607.4 162.0h0M620.4 163.9h0M616.0 167.6h0M614.8 171.3h0M622.2 175.7h0M625.3 175.7h0M567.9 178.7h0M626.6 181.8h0M623.5 184.9h0M624.7 189.9h0M628.4 194.2h0M629.7 197.3h0M623.5 197.9h0M626.0 201.6h0M630.3 201.0h0M632.8 204.7h0M637.1 191.7h0M639.6 200.4h0M642.7 200.4h0M622.2 204.7h0M523.5 199.8h0M527.8 197.3h0M533.7 193.3h0M529.7 207.0h0M534.0 205.7h0M541.5 181.2h0M544.0 178.5h0M539.0 199.2h0M539.6 201.6h0M540.9 205.4h0M543.3 205.7h0M547.0 199.2h0M547.7 201.0h0M550.8 199.2h0M550.8 186.2h0M551.4 191.7h0M550.1 204.7h0M556.3 190.5h0M557.0 176.9h0M562.3 181.2h0M554.5 203.5h0M667.8 172.0h0M638.0 191.6h0M652.3 199.9h0M656.1 200.9h0M651.6 205.1h0M663.6 205.1h0M665.9 205.1h0M669.3 203.6h0" stroke="#c00000" stroke-width="2.7" stroke-linecap="round" fill="none"/>
<path d="M576.5 175.1h0M585.6 203.5h0M578.5 187.7h0M581.4 178.5h0M573.7 183.8h0M569.8 208.5h0M560.4 199.8h0M579.3 172.0h0M587.1 187.0h0M571.6 180.9h0M572.1 208.3h0M564.9 198.9h0M580.0 204.5h0M576.7 186.3h0M564.6 184.4h0M565.8 205.2h0M581.5 177.3h0M585.0 170.9h0M559.7 207.5h0M567.9 194.7h0M581.5 190.2h0M581.2 200.4h0M573.8 191.8h0M583.5 196.5h0M564.7 205.8h0M606.9 190.8h0M610.4 191.9h0M616.4 208.5h0M613.2 201.5h0M610.7 186.7h0M617.4 209.8h0M610.7 193.7h0M598.0 203.9h0M612.4 193.8h0M600.5 191.5h0M606.7 198.7h0M615.9 197.3h0M613.2 207.8h0M619.1 196.3h0M602.1 192.7h0M603.6 209.9h0M619.0 204.5h0M618.6 191.0h0M597.8 182.5h0M611.6 206.9h0" stroke="#fff" stroke-width="1.2" stroke-linecap="round" fill="none" opacity="0.7"/>
<path d="M592.4 238.2L602.7 235.4L616.0 231.4L629.2 228.7L642.3 228.0L668.1 226.5L669.5 225.2L668.8 221.4L657.4 220.3L642.5 222.0L632.6 222.0L627.0 216.0L624.0 212.4L620.6 208.6L600.6 209.1L600.6 176.4L598.1 173.3L594.5 170.0L590.7 168.8L587.2 166.7L584.3 167.5L582.7 169.2L582.7 209.1L559.3 209.1L559.7 214.8L559.7 224.6L560.1 229.6L567.9 230.5L576.0 234.4Z" fill="#92d050"/>
<path d="M620.5 231.3h0M652.9 220.1h0M601.2 190.4h0M588.6 237.6h0M628.3 216.7h0M577.4 209.0h0M649.1 220.5h0M558.9 209.7h0M601.3 200.8h0M649.9 220.5h0M642.9 228.2h0M638.6 228.5h0M559.0 220.8h0M648.0 221.0h0M601.3 205.0h0M577.6 209.1h0M614.0 208.8h0M602.1 236.2h0M651.6 220.4h0M639.4 221.8h0M668.0 221.0h0M637.9 229.0h0M559.2 220.6h0M637.1 221.4h0M669.7 223.3h0M598.1 172.9h0M666.2 220.8h0M663.8 220.4h0M600.6 188.2h0M604.8 208.7h0M619.6 208.3h0M574.2 234.3h0M650.2 220.8h0M567.6 208.8h0M584.2 167.7h0M586.2 166.7h0M559.2 220.7h0M601.8 236.3h0M629.0 217.0h0M667.2 227.2h0M598.4 172.6h0M577.9 235.2h0M660.3 227.1h0M572.7 208.6h0M566.1 230.3h0M571.4 232.3h0M601.2 200.0h0M613.4 208.8h0M600.7 196.3h0M601.4 189.8h0M561.2 208.9h0M582.6 203.1h0M654.4 227.6h0M646.6 221.0h0M643.5 227.9h0M569.6 208.9h0M625.5 213.5h0M613.9 208.2h0M616.2 208.6h0M595.2 170.3h0M582.2 203.5h0M630.0 218.3h0M642.8 221.3h0M669.6 224.8h0M582.3 181.4h0M601.1 181.1h0M593.7 237.9h0M647.0 228.1h0M625.3 230.2h0M559.4 213.5h0M591.5 238.3h0M604.3 235.7h0M638.4 221.6h0M599.9 174.7h0M582.0 168.8h0M584.2 237.1h0M606.4 208.6h0M601.0 188.9h0M623.8 211.9h0M557.8 214.8h0M557.0 227.2h0M664.4 229.8h0M652.8 229.6h0M622.4 233.0h0M629.0 211.6h0M637.7 231.2h0M556.7 216.1h0M659.7 229.9h0M576.2 238.5h0M580.2 238.2h0M606.9 236.3h0M669.6 228.5h0M642.7 230.4h0M568.0 233.0h0M654.4 229.9h0M671.5 226.9h0M630.2 215.9h0M581.5 238.5h0M627.4 213.1h0M672.2 217.8h0M578.6 238.7h0M611.9 235.2h0M659.9 218.3h0M657.2 230.9h0M663.2 228.9h0M652.6 217.8h0M635.7 232.2h0M638.8 220.0h0M651.1 230.2h0M555.0 210.6h0M541.1 218.8h0M556.8 216.4h0M536.8 221.1h0M534.3 229.1h0M553.7 224.6h0M540.8 221.6h0M540.5 219.6h0M555.7 213.8h0M536.5 228.8h0M528.9 230.8h0M546.7 218.0h0M542.0 230.8h0M528.7 222.4h0M554.3 216.0h0M555.4 227.5h0M525.6 230.3h0M549.9 226.4h0M550.2 229.6h0M543.0 216.5h0M553.2 221.1h0M532.6 226.6h0M552.1 221.5h0M545.1 217.3h0M530.3 226.5h0M549.5 220.6h0M555.7 226.9h0M556.9 209.5h0M526.3 224.0h0M527.3 225.1h0M550.8 213.5h0M553.3 218.5h0M539.0 219.1h0M536.8 229.3h0M521.6 223.3h0M555.8 214.5h0M533.9 220.5h0M525.2 228.6h0M536.1 228.3h0M526.1 225.3h0M557.8 226.6h0M523.8 222.5h0M547.8 213.8h0M546.0 225.5h0M547.8 225.6h0M546.6 219.5h0M557.2 218.1h0M533.9 227.4h0M542.3 220.2h0M550.6 217.4h0M551.4 215.5h0M547.2 215.8h0M550.3 229.9h0M554.5 230.1h0M555.1 224.5h0M538.4 223.5h0M555.1 208.2h0M526.2 229.5h0M541.2 222.3h0M552.2 221.3h0M550.8 230.4h0M551.8 222.6h0M538.4 227.1h0M534.6 227.0h0M535.9 221.0h0M548.0 227.7h0M551.3 230.3h0M542.8 230.1h0M541.4 230.6h0M539.6 217.4h0M552.9 231.0h0M557.4 226.9h0M530.9 227.7h0M554.8 228.0h0M541.5 217.5h0M532.6 226.5h0M526.8 227.4h0M555.9 230.1h0M551.9 209.6h0M546.2 217.8h0M542.0 226.8h0M553.1 218.4h0M557.5 222.4h0M543.0 229.1h0M552.0 215.9h0M551.9 219.8h0M547.7 213.0h0M548.1 220.5h0M548.9 228.4h0M525.6 227.6h0M528.9 222.6h0M526.8 222.2h0M530.7 230.2h0M545.3 224.2h0M551.4 227.7h0M525.2 228.1h0M531.6 228.6h0M536.4 222.6h0M547.7 227.4h0M541.2 216.2h0M557.7 228.0h0M537.3 226.6h0M553.6 226.4h0M551.2 223.7h0M530.4 220.2h0M551.9 221.8h0M551.2 228.4h0M542.8 224.4h0M551.8 227.7h0M552.4 225.5h0M531.0 226.5h0M550.8 217.2h0M526.2 222.3h0M541.4 218.9h0M527.3 221.9h0M546.8 215.0h0M540.7 218.6h0M535.9 227.0h0M551.5 226.7h0M552.3 228.8h0M556.1 228.2h0M546.7 227.7h0M555.8 214.4h0M557.0 211.9h0M535.4 226.3h0M541.9 219.0h0M557.5 230.8h0M544.8 222.8h0M543.2 220.1h0M535.5 221.4h0M530.5 230.0h0M554.2 219.6h0M526.3 229.0h0M532.1 223.3h0M522.8 230.5h0M525.3 224.1h0M531.0 222.5h0M544.4 220.9h0M557.7 229.0h0M556.6 210.1h0M550.8 217.8h0M555.0 231.0h0M537.9 227.4h0M556.8 228.8h0M553.2 221.4h0M525.6 222.0h0M553.1 226.1h0M523.4 228.6h0M536.6 221.8h0M543.9 219.9h0M535.0 219.5h0M543.6 216.9h0M544.5 227.8h0M555.3 228.5h0M555.4 213.2h0M545.2 225.6h0M524.9 230.3h0M540.5 224.8h0M542.4 216.2h0M557.0 226.4h0M532.0 219.3h0M558.2 226.9h0M529.0 224.8h0M536.6 230.0h0M531.5 228.8h0M556.0 209.2h0M527.8 225.2h0M548.0 227.2h0M526.9 221.6h0M554.0 225.1h0M552.0 214.1h0M552.2 212.0h0M550.6 216.9h0M530.3 223.4h0M554.1 216.1h0M537.8 225.7h0M544.6 225.7h0M556.1 230.3h0M556.2 220.7h0M549.9 215.5h0M526.4 223.8h0M552.7 226.5h0M553.4 210.8h0M557.7 224.7h0M555.5 215.8h0M531.7 219.6h0M545.7 221.6h0M539.1 217.9h0M531.7 230.8h0M532.9 226.2h0M542.6 223.6h0M531.4 225.8h0M552.7 218.1h0M551.5 212.0h0M546.3 230.6h0M530.2 229.5h0M551.6 214.9h0M552.8 218.0h0M544.3 218.3h0M547.4 217.2h0M663.9 216.7h0M636.6 211.2h0M654.9 213.8h0M641.0 211.9h0M657.7 212.3h0M648.4 215.1h0M633.0 216.1h0M650.2 218.0h0M624.1 209.5h0M646.7 216.7h0M631.3 216.9h0M642.1 210.6h0M639.7 209.1h0M645.0 218.0h0M632.6 214.0h0M643.6 210.5h0M642.4 212.8h0M651.8 207.8h0M662.7 218.7h0M634.2 217.7h0M656.7 210.4h0M635.0 207.5h0M642.3 212.6h0M646.0 213.0h0M649.1 208.0h0M632.7 214.1h0M645.3 208.7h0M635.4 219.9h0M661.8 216.4h0M639.3 212.1h0M657.0 214.1h0M657.4 209.1h0M637.9 213.7h0M669.3 211.9h0M654.0 209.2h0M648.7 215.8h0M656.7 212.5h0M671.2 214.1h0M651.5 209.8h0M645.6 215.2h0M601.7 165.0h0M591.3 164.1h0M590.2 156.9h0M589.3 152.9h0M593.1 160.7h0M582.0 155.1h0M594.3 164.9h0M582.7 156.5h0M595.6 155.9h0M584.2 163.4h0M595.6 165.5h0M594.2 160.7h0M585.5 162.6h0M591.9 152.4h0M598.0 162.7h0M593.6 162.6h0M598.8 172.4h0M584.8 163.7h0M582.4 165.4h0M596.0 158.3h0M597.9 157.2h0M582.6 163.1h0M597.1 158.6h0M595.4 154.5h0M584.9 166.5h0M594.8 167.4h0M582.3 167.9h0M591.6 153.9h0M584.2 157.5h0M596.2 154.9h0M593.3 168.2h0M601.3 172.3h0M586.3 165.7h0M596.4 156.0h0M585.4 152.4h0M601.0 164.4h0M594.6 167.3h0M589.3 161.1h0M586.5 152.8h0M592.1 159.3h0M582.2 123.0h0M582.8 136.6h0M584.4 137.3h0M585.9 137.9h0M582.2 146.5h0M588.6 146.3h0M592.7 153.1h0M634.6 207.8h0M637.1 211.5h0M641.4 209.7h0M645.2 210.9h0M648.9 214.6h0M647.6 218.4h0M522.9 209.7h0M524.1 212.2h0M525.4 214.6h0M517.9 218.4h0M520.4 220.8h0M521.6 222.1h0M524.1 225.8h0M534.0 208.5h0M536.5 212.2h0M540.2 215.9h0M547.7 209.7h0M547.7 215.9h0M656.1 208.9h0M657.6 211.2h0M661.4 214.2h0M665.1 217.2h0M669.6 212.7h0M671.9 218.7h0" stroke="#92d050" stroke-width="2.7" stroke-linecap="round" fill="none"/>
<rect x="513.10" y="105.73" width="39.9" height="31.5" fill="#fff" stroke="#404040" stroke-width="1.1"/>
<line x1="513.10" y1="121.33" x2="553.00" y2="121.33" stroke="#404040" stroke-width="1.1"/>
<text transform="translate(533.05 118.33) scale(1 1.15)" font-size="11.2" text-anchor="middle" fill="#111">Down</text>
<text transform="translate(533.05 133.93) scale(1 1.15)" font-size="11.2" text-anchor="middle" fill="#111">613</text>
<rect x="629.20" y="105.73" width="43.8" height="31.5" fill="#fff" stroke="#404040" stroke-width="1.1"/>
<line x1="629.20" y1="121.33" x2="673.00" y2="121.33" stroke="#404040" stroke-width="1.1"/>
<text transform="translate(651.10 118.33) scale(1 1.15)" font-size="11.2" text-anchor="middle" fill="#111">Up</text>
<text transform="translate(651.10 133.93) scale(1 1.15)" font-size="11.2" text-anchor="middle" fill="#111">609</text>
<text transform="translate(153.90 348.00) scale(1 1.08)" font-size="12.7" text-anchor="middle" fill="#1a1a1a">E(-)P(-) vs E(+)P(+)</text>
<path d="M81.40 360.4V495.9M91.40 360.4V495.9M101.40 360.4V495.9M111.40 360.4V495.9M121.40 360.4V495.9M131.40 360.4V495.9M141.40 360.4V495.9M151.40 360.4V495.9M161.40 360.4V495.9M171.40 360.4V495.9M181.40 360.4V495.9M191.40 360.4V495.9M201.40 360.4V495.9M211.40 360.4V495.9M221.40 360.4V495.9M231.40 360.4V495.9M241.40 360.4V495.9M80.9 495.40H241.9M80.9 483.17H241.9M80.9 470.95H241.9M80.9 458.72H241.9M80.9 446.50H241.9M80.9 434.27H241.9M80.9 422.05H241.9M80.9 409.82H241.9M80.9 397.60H241.9M80.9 385.38H241.9M80.9 373.15H241.9M80.9 360.92H241.9" stroke="#d6d6d6" stroke-width="1.15" fill="none"/>
<path d="M161.40 360.4V495.9M158.40 495.40H161.40M158.40 483.17H161.40M158.40 470.95H161.40M158.40 458.72H161.40M158.40 446.50H161.40M158.40 434.27H161.40M158.40 422.05H161.40M158.40 409.82H161.40M158.40 397.60H161.40M158.40 385.38H161.40M158.40 373.15H161.40M158.40 360.92H161.40" stroke="#bfbfbf" stroke-width="1.15" fill="none"/>
<text x="74.00" y="499.50" font-size="10" text-anchor="end" fill="#1e1e1e" style="stroke-width:0.05px">0</text>
<text x="74.00" y="487.27" font-size="10" text-anchor="end" fill="#1e1e1e" style="stroke-width:0.05px">0.5</text>
<text x="74.00" y="475.05" font-size="10" text-anchor="end" fill="#1e1e1e" style="stroke-width:0.05px">1</text>
<text x="74.00" y="462.82" font-size="10" text-anchor="end" fill="#1e1e1e" style="stroke-width:0.05px">1.5</text>
<text x="74.00" y="450.60" font-size="10" text-anchor="end" fill="#1e1e1e" style="stroke-width:0.05px">2</text>
<text x="74.00" y="438.38" font-size="10" text-anchor="end" fill="#1e1e1e" style="stroke-width:0.05px">2.5</text>
<text x="74.00" y="426.15" font-size="10" text-anchor="end" fill="#1e1e1e" style="stroke-width:0.05px">3</text>
<text x="74.00" y="413.93" font-size="10" text-anchor="end" fill="#1e1e1e" style="stroke-width:0.05px">3.5</text>
<text x="74.00" y="401.70" font-size="10" text-anchor="end" fill="#1e1e1e" style="stroke-width:0.05px">4</text>
<text x="74.00" y="389.48" font-size="10" text-anchor="end" fill="#1e1e1e" style="stroke-width:0.05px">4.5</text>
<text x="74.00" y="377.25" font-size="10" text-anchor="end" fill="#1e1e1e" style="stroke-width:0.05px">5</text>
<text x="74.00" y="365.02" font-size="10" text-anchor="end" fill="#1e1e1e" style="stroke-width:0.05px">5.5</text>
<text transform="translate(81.70 510.80) scale(1 1.08)" font-size="10" text-anchor="middle" fill="#1e1e1e" style="stroke-width:0.05px">-8</text>
<text transform="translate(91.70 510.80) scale(1 1.08)" font-size="10" text-anchor="middle" fill="#1e1e1e" style="stroke-width:0.05px">-7</text>
<text transform="translate(101.70 510.80) scale(1 1.08)" font-size="10" text-anchor="middle" fill="#1e1e1e" style="stroke-width:0.05px">-6</text>
<text transform="translate(111.70 510.80) scale(1 1.08)" font-size="10" text-anchor="middle" fill="#1e1e1e" style="stroke-width:0.05px">-5</text>
<text transform="translate(121.70 510.80) scale(1 1.08)" font-size="10" text-anchor="middle" fill="#1e1e1e" style="stroke-width:0.05px">-4</text>
<text transform="translate(131.70 510.80) scale(1 1.08)" font-size="10" text-anchor="middle" fill="#1e1e1e" style="stroke-width:0.05px">-3</text>
<text transform="translate(141.70 510.80) scale(1 1.08)" font-size="10" text-anchor="middle" fill="#1e1e1e" style="stroke-width:0.05px">-2</text>
<text transform="translate(151.70 510.80) scale(1 1.08)" font-size="10" text-anchor="middle" fill="#1e1e1e" style="stroke-width:0.05px">-1</text>
<text transform="translate(161.70 510.80) scale(1 1.08)" font-size="10" text-anchor="middle" fill="#1e1e1e" style="stroke-width:0.05px">0</text>
<text transform="translate(171.70 510.80) scale(1 1.08)" font-size="10" text-anchor="middle" fill="#1e1e1e" style="stroke-width:0.05px">1</text>
<text transform="translate(181.70 510.80) scale(1 1.08)" font-size="10" text-anchor="middle" fill="#1e1e1e" style="stroke-width:0.05px">2</text>
<text transform="translate(191.70 510.80) scale(1 1.08)" font-size="10" text-anchor="middle" fill="#1e1e1e" style="stroke-width:0.05px">3</text>
<text transform="translate(201.70 510.80) scale(1 1.08)" font-size="10" text-anchor="middle" fill="#1e1e1e" style="stroke-width:0.05px">4</text>
<text transform="translate(211.70 510.80) scale(1 1.08)" font-size="10" text-anchor="middle" fill="#1e1e1e" style="stroke-width:0.05px">5</text>
<text transform="translate(221.70 510.80) scale(1 1.08)" font-size="10" text-anchor="middle" fill="#1e1e1e" style="stroke-width:0.05px">6</text>
<text transform="translate(231.70 510.80) scale(1 1.08)" font-size="10" text-anchor="middle" fill="#1e1e1e" style="stroke-width:0.05px">7</text>
<text transform="translate(241.70 510.80) scale(1 1.08)" font-size="10" text-anchor="middle" fill="#1e1e1e" style="stroke-width:0.05px">8</text>
<text transform="translate(181.20 525.10) scale(1 1.07)" font-size="11.2" text-anchor="middle" fill="#222">Log2 fold change</text>
<text transform="translate(49.0,423.3) rotate(-90)" font-size="11" text-anchor="middle" fill="#111">-Log10 P-val</text>
<path d="M153.9 462.6L153.9 450.0L150.8 450.0L149.4 450.7L144.3 455.3L141.1 454.3L140.1 456.1L137.2 458.5L135.5 461.8L135.6 462.6Z" fill="#c00000"/>
<path d="M154.7 463.6h0M156.1 454.4h0M143.4 453.6h0M149.9 464.9h0M155.1 451.0h0M156.1 464.5h0M144.3 463.3h0M153.7 449.5h0M142.5 464.1h0M138.4 455.2h0M133.6 461.4h0M137.4 456.8h0M147.4 463.2h0M134.6 463.8h0M148.1 450.0h0M139.8 454.3h0M137.0 457.3h0M155.7 457.7h0M154.5 453.1h0M153.6 449.4h0M156.3 456.5h0M135.3 458.9h0M155.7 455.0h0M156.2 454.1h0M147.1 450.3h0M155.2 458.5h0M147.1 449.5h0M134.9 462.9h0M135.7 458.0h0M145.8 450.5h0M150.1 449.5h0M134.6 459.9h0M156.1 457.3h0M136.7 459.2h0M139.4 462.6h0M150.5 448.4h0M166.8 447.1h0M174.7 462.2h0M173.3 458.7h0M171.3 455.9h0M167.2 445.7h0M176.1 461.0h0M172.6 448.2h0M176.1 460.6h0M175.1 457.6h0M174.2 455.4h0M172.9 464.5h0M176.3 459.3h0M172.8 449.5h0M169.9 462.3h0M171.3 458.9h0M167.7 460.1h0M174.2 453.8h0M169.2 463.7h0M173.4 463.5h0M169.5 450.0h0M172.0 456.8h0M166.1 446.4h0M167.1 464.0h0M177.2 463.0h0M169.0 464.5h0M170.0 461.2h0M169.0 464.0h0M167.5 446.1h0M167.8 457.1h0M166.3 458.3h0M175.5 461.1h0M175.7 458.6h0M171.7 455.5h0M168.7 455.8h0M172.7 454.9h0M176.4 460.7h0M169.2 462.9h0M169.5 455.2h0M166.7 458.6h0M166.1 447.9h0M176.1 463.5h0M171.8 461.0h0M171.4 445.5h0M136.6 438.8h0M145.0 432.7h0M132.0 442.3h0M136.4 433.7h0M134.2 433.0h0M127.9 440.7h0M137.1 426.6h0M145.2 426.0h0M147.7 429.7h0M150.1 435.3h0M125.7 435.0h0M123.7 447.0h0M137.1 443.3h0M139.6 443.3h0M144.6 442.5h0M148.9 442.5h0M128.4 452.0h0M172.4 438.4h0M177.4 440.2h0M179.3 448.9h0M125.8 435.0h0M123.8 447.3h0M96.6 452.9h0M98.6 452.2h0M99.9 453.5h0M96.6 460.6h0M101.2 460.2h0M92.6 462.8h0M128.4 451.5h0M137.1 426.3h0M190.7 421.8h0M185.8 431.2h0M196.6 439.4h0M216.9 436.1h0M195.5 450.7h0M200.5 455.3h0M200.0 457.4h0M208.3 456.8h0M224.1 457.9h0" stroke="#c00000" stroke-width="2.7" stroke-linecap="round" fill="none"/>
<path d="M161.4 494.3L170.9 491.7L184.5 487.6L192.3 484.5L191.7 481.4L187.9 474.5L183.8 470.5L178.0 464.7L169.5 464.7L169.5 458.8L168.8 443.9L168.0 433.3L166.5 425.6L164.1 424.0L160.4 425.2L156.8 424.0L154.9 425.5L154.0 433.2L152.9 444.0L151.8 458.8L151.8 464.6L130.6 465.4L124.9 470.4L120.7 476.6L117.3 482.3L117.9 485.2L126.6 486.3L136.6 487.5L152.9 492.4Z" fill="#92d050"/>
<path d="M135.4 465.0h0M121.1 474.6h0M169.4 445.7h0M138.9 464.6h0M169.7 446.7h0M170.0 453.5h0M152.4 445.6h0M177.4 490.4h0M169.7 449.5h0M152.0 446.5h0M181.7 468.2h0M184.8 470.6h0M139.9 464.4h0M151.3 463.6h0M167.6 427.7h0M168.6 438.1h0M152.1 454.0h0M156.5 423.8h0M169.1 450.1h0M146.0 490.8h0M151.5 454.3h0M128.1 467.6h0M151.7 454.3h0M151.0 462.5h0M154.5 427.9h0M130.2 465.3h0M130.9 465.3h0M168.8 435.0h0M155.6 424.2h0M161.4 424.4h0M152.7 445.7h0M184.2 470.5h0M173.8 464.6h0M173.7 491.0h0M182.7 468.5h0M170.0 451.9h0M128.0 467.1h0M190.2 485.9h0M189.7 486.0h0M169.7 452.9h0M153.9 427.1h0M145.5 490.7h0M122.8 472.5h0M152.4 441.8h0M160.9 424.4h0M152.1 444.3h0M162.2 424.0h0M187.2 473.5h0M184.9 487.4h0M117.8 485.5h0M118.8 485.7h0M166.7 425.7h0M171.6 492.0h0M124.2 486.1h0M176.8 463.9h0M124.3 486.1h0M119.4 477.3h0M169.5 444.2h0M152.6 440.4h0M153.2 433.6h0M115.7 484.4h0M151.9 435.0h0M155.2 422.3h0M125.0 489.2h0M172.1 442.4h0M178.3 491.5h0M142.0 491.9h0M183.7 491.0h0M155.0 420.7h0M125.7 465.3h0M149.8 494.0h0M130.7 488.9h0M168.6 422.8h0M152.1 425.1h0M134.1 490.3h0M172.6 439.7h0M190.2 487.7h0M170.2 434.0h0M156.5 419.2h0M183.2 463.8h0M155.8 420.1h0M120.1 487.6h0M151.0 437.2h0M149.8 493.4h0M193.7 486.7h0M116.9 477.9h0M192.9 478.8h0M105.4 480.4h0M102.2 486.4h0M115.4 484.0h0M120.5 480.9h0M90.9 485.2h0M103.8 482.3h0M88.1 481.4h0M89.0 468.2h0M93.1 484.2h0M118.3 475.5h0M93.8 482.7h0M108.6 474.7h0M97.9 474.9h0M96.8 481.3h0M122.1 485.7h0M97.5 480.6h0M95.7 486.4h0M97.6 475.0h0M96.4 484.5h0M89.3 486.4h0M86.9 470.8h0M99.1 479.0h0M121.1 487.5h0M105.2 481.3h0M98.4 478.0h0M86.0 482.8h0M108.0 481.2h0M121.5 484.4h0M89.2 474.1h0M101.6 475.3h0M90.4 476.0h0M114.3 486.6h0M113.4 480.0h0M118.1 481.7h0M105.4 479.0h0M88.0 473.5h0M100.3 480.8h0M117.6 477.1h0M127.5 487.7h0M118.9 477.9h0M85.4 482.4h0M111.0 487.6h0M110.7 475.8h0M89.5 470.6h0M116.8 484.6h0M99.8 479.0h0M93.4 476.0h0M98.1 483.0h0M105.1 486.3h0M107.0 473.0h0M123.8 480.0h0M104.5 484.5h0M98.9 471.5h0M93.5 472.7h0M119.4 484.2h0M110.4 474.2h0M113.2 482.9h0M102.9 484.1h0M95.4 485.8h0M115.8 483.0h0M87.6 475.9h0M86.1 477.9h0M108.9 475.4h0M104.8 476.6h0M85.5 475.4h0M116.9 478.1h0M101.4 472.2h0M103.8 482.7h0M90.8 486.0h0M125.1 483.5h0M94.6 478.2h0M95.2 480.9h0M124.3 481.9h0M107.0 481.9h0M91.7 476.3h0M87.1 476.3h0M96.7 483.8h0M92.5 477.6h0M107.7 474.0h0M98.2 474.8h0M111.9 485.6h0M90.1 482.7h0M110.9 482.3h0M87.8 469.5h0M109.8 487.1h0M106.0 483.3h0M100.7 482.6h0M90.0 481.4h0M119.9 477.0h0M125.6 485.7h0M111.7 475.1h0M94.0 486.5h0M103.1 470.9h0M87.6 484.3h0M107.8 475.6h0M105.6 474.1h0M105.3 477.6h0M102.0 470.9h0M86.3 478.6h0M85.6 474.0h0M90.1 471.8h0M105.3 480.8h0M86.9 480.7h0M103.4 475.9h0M104.9 480.9h0M90.6 472.2h0M90.9 474.5h0M118.6 487.3h0M107.4 487.4h0M125.5 484.9h0M118.1 478.2h0M95.4 479.2h0M117.5 483.9h0M118.2 477.2h0M110.6 475.2h0M116.7 478.7h0M125.0 484.3h0M87.1 484.1h0M108.8 486.8h0M105.7 485.5h0M116.7 480.5h0M107.8 482.6h0M114.5 478.7h0M102.3 474.3h0M98.9 481.6h0M101.2 484.6h0M103.5 482.7h0M104.2 479.0h0M107.0 475.8h0M99.4 476.7h0M100.5 481.8h0M122.8 484.7h0M99.1 481.0h0M108.3 475.2h0M96.6 485.4h0M106.2 486.7h0M115.8 475.1h0M122.4 480.5h0M91.1 470.6h0M106.4 475.5h0M103.7 479.1h0M89.5 485.7h0M87.2 481.1h0M108.3 481.8h0M104.0 482.0h0M103.3 475.1h0M93.0 485.6h0M107.0 474.2h0M122.0 479.1h0M100.1 483.3h0M92.1 477.0h0M86.3 473.0h0M102.9 484.3h0M126.5 484.5h0M90.3 475.4h0M118.5 487.4h0M111.5 486.4h0M116.8 477.9h0M88.0 473.6h0M114.9 475.6h0M210.5 479.3h0M225.1 480.9h0M214.4 482.0h0M207.9 482.9h0M227.0 477.1h0M215.5 479.0h0M218.7 482.7h0M214.4 485.1h0M223.5 484.8h0M201.1 479.9h0M216.0 480.1h0M204.2 485.8h0M218.0 480.4h0M212.6 483.5h0M222.2 484.3h0M207.8 486.3h0M222.3 479.1h0M202.2 480.7h0M205.3 485.3h0M196.7 484.7h0M201.9 484.7h0M211.1 477.7h0M229.9 480.6h0M229.7 479.6h0M204.5 482.0h0M203.0 482.3h0M220.4 482.9h0M196.6 483.2h0M205.5 481.0h0M225.6 485.2h0M222.0 480.8h0M220.5 483.0h0M230.0 485.2h0M230.2 485.6h0M215.7 480.5h0M201.9 485.0h0M213.1 481.3h0M206.4 479.7h0M213.6 482.9h0M206.9 477.9h0M216.6 486.0h0M215.5 486.4h0M202.5 484.5h0M214.7 476.7h0M202.3 483.7h0M224.2 477.7h0M219.6 485.4h0M204.6 484.8h0M201.7 477.7h0M223.5 485.4h0M220.2 481.5h0M218.7 482.1h0M217.0 485.9h0M212.5 479.1h0M203.8 481.7h0M222.3 480.3h0M205.4 478.0h0M208.6 478.0h0M221.0 483.9h0M219.7 477.3h0M205.5 479.2h0M227.3 486.0h0M222.9 482.2h0M210.6 482.4h0M215.2 480.2h0M205.3 478.0h0M221.1 484.6h0M201.8 485.4h0M222.5 480.1h0M221.6 481.3h0M218.7 484.0h0M227.8 482.3h0M203.8 483.0h0M218.8 481.5h0M208.8 486.6h0M228.9 484.2h0M213.1 483.1h0M204.8 482.6h0M229.2 484.1h0M218.3 477.3h0M224.6 476.9h0M203.2 482.1h0M223.4 476.9h0M222.4 482.9h0M218.7 482.2h0M229.4 485.0h0M197.5 485.7h0M218.6 486.4h0M228.6 480.5h0M201.2 486.3h0M203.6 484.7h0M201.9 482.7h0M204.3 482.7h0M210.7 484.7h0M217.0 486.3h0M216.3 484.8h0M228.5 477.5h0M229.3 480.8h0M209.4 482.1h0M221.8 484.7h0M200.6 482.1h0M200.5 483.5h0M199.0 485.6h0M211.3 482.0h0M218.5 477.1h0M227.2 482.0h0M213.0 483.9h0M211.3 486.0h0M217.7 483.9h0M221.0 477.0h0M118.8 484.6h0M123.4 481.6h0M122.5 476.2h0M120.5 485.1h0M119.7 475.0h0M118.0 486.1h0M122.1 473.3h0M124.7 477.0h0M116.5 484.2h0M121.3 474.9h0M117.7 486.0h0M119.2 485.5h0M123.7 474.4h0M117.7 481.3h0M116.5 480.6h0M198.9 483.6h0M191.0 475.5h0M199.6 484.0h0M197.9 482.5h0M195.7 485.6h0M195.7 483.6h0M194.0 478.9h0M193.8 481.0h0M199.7 485.6h0M194.1 480.2h0M164.3 423.5h0M164.3 422.9h0M154.9 417.3h0M159.6 411.9h0M166.0 413.0h0M161.4 420.6h0M164.8 408.1h0M164.1 409.2h0M158.3 409.0h0M162.2 410.7h0M156.1 416.4h0M159.5 416.6h0M154.5 403.1h0M155.7 402.4h0M163.8 404.9h0M164.4 407.4h0M152.0 413.6h0M155.1 409.9h0M157.0 413.0h0M164.4 411.1h0M165.6 413.6h0M158.2 417.3h0M162.5 416.7h0M166.9 416.7h0M155.7 419.8h0M160.7 421.0h0M152.6 424.1h0M169.3 427.8h0M192.8 463.9h0M197.8 466.9h0M195.5 469.2h0M201.5 471.4h0M211.3 466.5h0M221.1 468.4h0M219.6 472.9h0M224.8 472.9h0M227.9 470.4h0M231.6 481.2h0M238.4 481.2h0M236.1 485.0h0M88.0 465.5h0M92.6 466.2h0M120.5 468.1h0M125.8 465.5h0" stroke="#92d050" stroke-width="2.7" stroke-linecap="round" fill="none"/>
<rect x="81.30" y="361.82" width="39.9" height="31.5" fill="#fff" stroke="#404040" stroke-width="1.1"/>
<line x1="81.30" y1="377.42" x2="121.20" y2="377.42" stroke="#404040" stroke-width="1.1"/>
<text transform="translate(101.25 374.42) scale(1 1.15)" font-size="11.2" text-anchor="middle" fill="#111">Down</text>
<text transform="translate(101.25 390.02) scale(1 1.15)" font-size="11.2" text-anchor="middle" fill="#111">102</text>
<rect x="197.20" y="361.82" width="44.0" height="31.5" fill="#fff" stroke="#404040" stroke-width="1.1"/>
<line x1="197.20" y1="377.42" x2="241.20" y2="377.42" stroke="#404040" stroke-width="1.1"/>
<text transform="translate(219.20 374.42) scale(1 1.15)" font-size="11.2" text-anchor="middle" fill="#111">Up</text>
<text transform="translate(219.20 390.02) scale(1 1.15)" font-size="11.2" text-anchor="middle" fill="#111">37</text>
<text transform="translate(369.94 348.00) scale(1 1.08)" font-size="12.7" text-anchor="middle" fill="#1a1a1a">E(+)P(-) vs E(+)P(+)</text>
<path d="M295.90 360.4V495.9M305.93 360.4V495.9M315.96 360.4V495.9M325.99 360.4V495.9M336.02 360.4V495.9M346.05 360.4V495.9M356.08 360.4V495.9M366.11 360.4V495.9M376.14 360.4V495.9M386.17 360.4V495.9M396.20 360.4V495.9M406.23 360.4V495.9M416.26 360.4V495.9M426.29 360.4V495.9M436.32 360.4V495.9M446.35 360.4V495.9M456.38 360.4V495.9M295.4 495.40H456.9M295.4 483.17H456.9M295.4 470.95H456.9M295.4 458.72H456.9M295.4 446.50H456.9M295.4 434.27H456.9M295.4 422.05H456.9M295.4 409.82H456.9M295.4 397.60H456.9M295.4 385.38H456.9M295.4 373.15H456.9M295.4 360.92H456.9" stroke="#d6d6d6" stroke-width="1.15" fill="none"/>
<path d="M376.14 360.4V495.9M373.14 495.40H376.14M373.14 483.17H376.14M373.14 470.95H376.14M373.14 458.72H376.14M373.14 446.50H376.14M373.14 434.27H376.14M373.14 422.05H376.14M373.14 409.82H376.14M373.14 397.60H376.14M373.14 385.38H376.14M373.14 373.15H376.14M373.14 360.92H376.14" stroke="#bfbfbf" stroke-width="1.15" fill="none"/>
<text x="288.50" y="499.50" font-size="10" text-anchor="end" fill="#1e1e1e" style="stroke-width:0.05px">0</text>
<text x="288.50" y="487.27" font-size="10" text-anchor="end" fill="#1e1e1e" style="stroke-width:0.05px">0.5</text>
<text x="288.50" y="475.05" font-size="10" text-anchor="end" fill="#1e1e1e" style="stroke-width:0.05px">1</text>
<text x="288.50" y="462.82" font-size="10" text-anchor="end" fill="#1e1e1e" style="stroke-width:0.05px">1.5</text>
<text x="288.50" y="450.60" font-size="10" text-anchor="end" fill="#1e1e1e" style="stroke-width:0.05px">2</text>
<text x="288.50" y="438.38" font-size="10" text-anchor="end" fill="#1e1e1e" style="stroke-width:0.05px">2.5</text>
<text x="288.50" y="426.15" font-size="10" text-anchor="end" fill="#1e1e1e" style="stroke-width:0.05px">3</text>
<text x="288.50" y="413.93" font-size="10" text-anchor="end" fill="#1e1e1e" style="stroke-width:0.05px">3.5</text>
<text x="288.50" y="401.70" font-size="10" text-anchor="end" fill="#1e1e1e" style="stroke-width:0.05px">4</text>
<text x="288.50" y="389.48" font-size="10" text-anchor="end" fill="#1e1e1e" style="stroke-width:0.05px">4.5</text>
<text x="288.50" y="377.25" font-size="10" text-anchor="end" fill="#1e1e1e" style="stroke-width:0.05px">5</text>
<text x="288.50" y="365.02" font-size="10" text-anchor="end" fill="#1e1e1e" style="stroke-width:0.05px">5.5</text>
<text transform="translate(296.20 510.80) scale(1 1.08)" font-size="10" text-anchor="middle" fill="#1e1e1e" style="stroke-width:0.05px">-8</text>
<text transform="translate(306.23 510.80) scale(1 1.08)" font-size="10" text-anchor="middle" fill="#1e1e1e" style="stroke-width:0.05px">-7</text>
<text transform="translate(316.26 510.80) scale(1 1.08)" font-size="10" text-anchor="middle" fill="#1e1e1e" style="stroke-width:0.05px">-6</text>
<text transform="translate(326.29 510.80) scale(1 1.08)" font-size="10" text-anchor="middle" fill="#1e1e1e" style="stroke-width:0.05px">-5</text>
<text transform="translate(336.32 510.80) scale(1 1.08)" font-size="10" text-anchor="middle" fill="#1e1e1e" style="stroke-width:0.05px">-4</text>
<text transform="translate(346.35 510.80) scale(1 1.08)" font-size="10" text-anchor="middle" fill="#1e1e1e" style="stroke-width:0.05px">-3</text>
<text transform="translate(356.38 510.80) scale(1 1.08)" font-size="10" text-anchor="middle" fill="#1e1e1e" style="stroke-width:0.05px">-2</text>
<text transform="translate(366.41 510.80) scale(1 1.08)" font-size="10" text-anchor="middle" fill="#1e1e1e" style="stroke-width:0.05px">-1</text>
<text transform="translate(376.44 510.80) scale(1 1.08)" font-size="10" text-anchor="middle" fill="#1e1e1e" style="stroke-width:0.05px">0</text>
<text transform="translate(386.47 510.80) scale(1 1.08)" font-size="10" text-anchor="middle" fill="#1e1e1e" style="stroke-width:0.05px">1</text>
<text transform="translate(396.50 510.80) scale(1 1.08)" font-size="10" text-anchor="middle" fill="#1e1e1e" style="stroke-width:0.05px">2</text>
<text transform="translate(406.53 510.80) scale(1 1.08)" font-size="10" text-anchor="middle" fill="#1e1e1e" style="stroke-width:0.05px">3</text>
<text transform="translate(416.56 510.80) scale(1 1.08)" font-size="10" text-anchor="middle" fill="#1e1e1e" style="stroke-width:0.05px">4</text>
<text transform="translate(426.59 510.80) scale(1 1.08)" font-size="10" text-anchor="middle" fill="#1e1e1e" style="stroke-width:0.05px">5</text>
<text transform="translate(436.62 510.80) scale(1 1.08)" font-size="10" text-anchor="middle" fill="#1e1e1e" style="stroke-width:0.05px">6</text>
<text transform="translate(446.65 510.80) scale(1 1.08)" font-size="10" text-anchor="middle" fill="#1e1e1e" style="stroke-width:0.05px">7</text>
<text transform="translate(456.68 510.80) scale(1 1.08)" font-size="10" text-anchor="middle" fill="#1e1e1e" style="stroke-width:0.05px">8</text>
<text transform="translate(395.94 525.10) scale(1 1.07)" font-size="11.2" text-anchor="middle" fill="#222">Log2 fold change</text>
<text transform="translate(264.4,423.3) rotate(-90)" font-size="11" text-anchor="middle" fill="#111">-Log10 P-val</text>
<path d="M366.1 444.5L362.4 447.1L358.0 449.6L355.4 451.2L354.1 456.9L354.1 459.8L366.1 459.8ZM385.2 459.8L392.9 459.8L392.9 453.2L392.8 453.1L386.6 453.9L385.2 453.9Z" fill="#c00000"/>
<path d="M364.3 444.5h0M352.0 448.7h0M367.8 454.6h0M366.4 456.4h0M367.7 462.9h0M351.4 460.2h0M351.3 459.6h0M363.0 460.9h0M367.3 456.0h0M350.1 458.4h0M368.1 461.8h0M351.7 460.7h0M367.4 455.5h0M367.4 452.4h0M354.1 458.0h0M367.5 443.9h0M361.6 462.8h0M352.7 458.1h0M352.0 452.8h0M366.7 441.6h0M352.3 460.7h0M353.3 463.1h0M357.1 448.1h0M353.8 449.3h0M364.1 441.4h0M353.8 457.1h0M359.9 463.3h0M361.3 463.2h0M367.4 448.8h0M352.3 452.7h0M368.0 440.7h0M367.4 455.7h0M367.5 446.7h0M353.1 454.1h0M350.6 457.8h0M352.2 457.8h0M352.6 455.9h0M353.0 461.9h0M365.6 442.9h0M369.5 463.3h0M367.8 461.8h0M353.5 457.7h0M362.3 446.3h0M354.0 456.3h0M361.0 445.6h0M368.3 457.5h0M365.9 460.5h0M370.1 459.7h0M368.9 448.3h0M355.2 462.0h0M368.7 453.2h0M395.3 452.3h0M393.9 453.5h0M381.2 459.5h0M383.6 456.5h0M394.2 458.4h0M393.0 453.4h0M388.9 451.8h0M388.9 451.1h0M395.7 453.1h0M387.9 462.2h0M391.2 460.4h0M384.0 451.4h0M382.0 460.6h0M390.5 450.3h0M396.4 454.5h0M391.3 460.3h0M394.3 455.3h0M389.7 459.9h0M391.5 460.4h0M390.1 452.5h0M390.2 460.1h0M382.7 455.3h0M384.1 458.1h0M384.0 454.1h0M387.8 462.9h0M395.9 457.7h0M381.5 452.5h0M383.9 460.0h0M396.2 455.9h0M390.1 453.0h0M392.0 452.8h0M390.6 462.5h0M396.0 460.1h0M384.5 457.5h0M349.3 406.2h0M364.8 409.0h0M386.2 410.1h0M387.7 414.2h0M386.9 420.4h0M363.6 429.9h0M363.6 433.0h0M361.7 436.7h0M364.8 435.5h0M356.1 444.2h0M363.6 443.5h0M345.0 445.4h0M341.9 446.6h0M343.7 461.9h0M387.1 420.6h0M386.1 428.4h0M386.5 432.4h0M388.6 435.9h0M386.9 439.2h0M387.7 442.9h0M388.3 444.8h0M395.2 431.8h0M398.9 452.8h0M309.4 440.5h0M319.3 440.5h0M303.0 450.9h0M312.5 454.0h0M301.6 458.9h0M305.9 460.6h0M315.3 460.1h0M316.8 462.8h0M331.2 460.1h0M341.8 446.9h0M345.1 445.5h0M343.9 461.8h0M402.1 445.5h0M403.1 446.6h0M401.1 457.9h0M408.8 457.1h0M407.1 459.9h0M439.6 459.6h0M439.9 461.3h0M448.8 458.7h0M311.0 418.7h0M432.7 402.1h0" stroke="#c00000" stroke-width="2.7" stroke-linecap="round" fill="none"/>
<path d="M376.0 494.8L384.6 492.4L396.3 489.5L405.4 486.7L405.4 481.1L402.7 474.3L397.9 468.5L394.5 465.1L384.5 464.6L383.9 450.4L382.4 441.9L381.3 433.3L380.3 426.1L378.3 420.3L376.8 418.8L374.3 418.2L373.1 420.2L371.1 426.1L370.0 433.3L368.9 441.8L367.9 450.4L366.7 464.6L348.9 465.4L345.7 469.3L343.9 480.8L344.4 487.1L344.9 487.3L356.3 490.2L366.5 493.2Z" fill="#92d050"/>
<path d="M367.4 450.4h0M368.4 440.6h0M346.7 468.1h0M381.0 425.9h0M343.9 476.3h0M354.9 465.0h0M382.4 493.2h0M382.1 493.5h0M368.3 443.1h0M382.8 438.8h0M368.4 494.1h0M386.5 492.2h0M379.8 424.7h0M385.3 493.0h0M366.3 460.6h0M369.8 494.4h0M382.4 441.6h0M399.2 469.4h0M390.2 491.7h0M367.3 452.4h0M347.9 465.6h0M343.6 483.7h0M367.5 448.4h0M379.2 494.6h0M369.1 434.4h0M377.2 495.2h0M383.8 448.5h0M389.0 491.4h0M343.4 484.4h0M382.7 443.5h0M381.9 433.9h0M374.2 417.9h0M397.5 489.7h0M384.4 458.6h0M397.3 489.2h0M376.1 418.0h0M343.4 483.4h0M358.4 464.9h0M367.1 460.0h0M382.7 441.4h0M405.4 487.2h0M384.7 456.5h0M358.2 491.6h0M401.4 472.5h0M366.9 456.0h0M388.8 464.2h0M354.9 464.3h0M366.9 455.7h0M401.2 472.3h0M405.1 479.0h0M369.3 437.3h0M405.7 480.0h0M359.8 464.1h0M344.0 485.8h0M382.0 438.9h0M386.1 492.2h0M393.9 490.3h0M406.1 474.2h0M382.3 424.9h0M384.9 433.4h0M368.8 428.9h0M385.5 431.9h0M342.1 475.6h0M381.5 417.6h0M377.9 416.6h0M407.5 488.4h0M382.7 419.8h0M384.6 435.4h0M384.4 434.1h0M391.9 493.1h0M346.3 462.5h0M340.9 472.9h0M340.7 477.1h0M384.5 426.4h0M340.0 488.5h0M360.5 493.8h0M361.5 493.9h0M365.5 434.9h0M355.3 493.6h0M350.1 491.2h0M408.4 487.1h0M335.8 482.0h0M311.5 486.1h0M339.1 480.1h0M317.3 481.3h0M338.7 481.2h0M311.7 481.9h0M297.9 482.0h0M303.4 485.5h0M317.2 487.0h0M316.4 479.2h0M341.8 486.1h0M335.8 486.7h0M322.9 484.5h0M329.5 479.9h0M298.7 484.0h0M328.5 481.8h0M315.3 484.1h0M324.3 485.0h0M316.8 481.4h0M325.4 478.7h0M327.0 479.4h0M328.6 479.6h0M329.6 479.8h0M314.4 477.4h0M322.9 478.1h0M321.3 480.8h0M329.5 478.7h0M330.2 477.1h0M319.2 477.5h0M334.8 479.4h0M304.0 484.1h0M333.8 483.2h0M325.6 483.9h0M338.3 479.5h0M328.0 484.2h0M326.9 481.7h0M341.1 483.6h0M322.9 486.2h0M330.1 481.9h0M331.0 479.0h0M322.6 481.0h0M323.3 485.5h0M338.9 485.3h0M327.9 486.3h0M330.5 480.5h0M324.1 477.5h0M304.7 483.0h0M305.4 477.2h0M308.7 485.1h0M325.2 477.0h0M307.1 486.1h0M314.7 483.8h0M338.9 486.9h0M310.4 479.8h0M330.1 479.2h0M313.6 478.3h0M305.9 485.7h0M334.1 482.3h0M335.4 481.2h0M329.9 481.1h0M339.3 484.0h0M331.2 483.0h0M318.0 476.6h0M328.5 481.6h0M315.7 486.8h0M306.2 486.8h0M328.4 480.4h0M338.0 486.5h0M326.8 480.2h0M326.8 476.6h0M316.6 483.5h0M336.9 481.8h0M325.1 485.7h0M324.7 476.7h0M313.8 478.5h0M307.3 478.5h0M312.0 476.1h0M340.9 484.1h0M334.2 484.0h0M336.2 479.0h0M300.2 481.1h0M341.0 480.6h0M323.6 482.2h0M323.5 480.1h0M324.3 486.9h0M298.2 484.7h0M322.5 477.5h0M308.6 484.0h0M312.3 482.2h0M332.2 479.2h0M315.5 478.5h0M322.4 480.8h0M335.2 479.6h0M316.9 481.8h0M335.1 484.8h0M306.0 481.4h0M312.3 480.7h0M314.1 484.9h0M323.2 483.3h0M321.6 484.0h0M432.1 480.4h0M439.9 483.1h0M432.9 483.1h0M447.2 483.3h0M428.4 485.7h0M427.4 476.3h0M425.1 481.1h0M446.5 479.3h0M439.5 478.4h0M417.2 486.6h0M436.4 480.7h0M440.0 476.9h0M447.1 478.8h0M449.9 477.3h0M432.5 478.9h0M437.9 476.0h0M418.3 484.7h0M434.6 476.7h0M449.7 478.7h0M436.1 477.8h0M424.9 482.6h0M441.1 484.5h0M449.7 486.1h0M431.9 475.6h0M421.8 485.5h0M450.5 481.6h0M442.2 477.5h0M425.4 480.3h0M441.1 483.9h0M430.2 479.5h0M434.3 480.7h0M429.8 479.2h0M434.0 485.2h0M444.4 482.4h0M429.2 482.3h0M444.8 481.8h0M448.0 475.7h0M433.9 485.9h0M436.0 484.6h0M428.7 486.7h0M422.9 481.5h0M442.9 486.6h0M431.2 484.4h0M439.1 483.9h0M446.3 480.4h0M428.7 484.3h0M428.9 477.1h0M423.7 481.0h0M433.8 477.5h0M449.3 477.1h0M444.0 479.3h0M446.3 485.4h0M435.0 485.4h0M445.0 483.1h0M426.1 486.8h0M429.2 483.2h0M439.2 479.3h0M441.8 483.2h0M446.1 479.8h0M427.0 477.2h0M429.7 484.5h0M443.2 477.4h0M434.4 475.6h0M442.1 481.3h0M447.6 484.0h0M428.0 481.3h0M421.8 483.4h0M422.6 479.7h0M434.7 478.7h0M440.9 486.7h0M423.4 483.9h0M430.0 486.0h0M445.2 480.7h0M445.1 478.6h0M437.5 485.3h0M435.0 479.3h0M423.8 476.9h0M423.7 482.5h0M421.7 484.2h0M425.1 476.8h0M437.9 486.1h0M445.5 475.5h0M423.8 478.0h0M446.3 480.7h0M443.1 486.4h0M438.5 485.1h0M430.2 484.0h0M438.6 484.3h0M439.4 483.1h0M440.8 477.2h0M404.4 469.2h0M409.7 477.9h0M408.6 487.6h0M409.1 473.3h0M410.9 480.2h0M397.5 463.9h0M412.9 485.6h0M406.2 487.3h0M408.4 485.1h0M411.8 482.6h0M408.2 477.5h0M408.6 478.2h0M414.8 482.8h0M402.3 465.8h0M408.8 486.4h0M409.1 476.6h0M400.3 466.3h0M400.4 468.1h0M407.2 480.7h0M408.7 482.1h0M406.3 482.2h0M410.7 475.5h0M416.0 484.8h0M410.3 478.7h0M399.3 465.3h0M416.8 482.7h0M407.7 473.4h0M398.2 465.4h0M402.9 467.2h0M406.5 473.5h0M407.2 475.9h0M408.1 474.8h0M407.9 479.7h0M411.3 480.1h0M398.0 465.7h0M415.5 481.7h0M407.9 479.9h0M409.6 477.9h0M397.0 464.4h0M405.8 478.6h0M410.4 478.1h0M410.0 477.9h0M406.6 482.3h0M413.1 481.6h0M413.8 478.4h0M408.7 487.3h0M414.0 487.4h0M416.4 479.5h0M400.4 465.9h0M411.7 475.2h0M410.3 478.7h0M408.7 486.6h0M404.1 472.0h0M405.9 482.0h0M407.7 471.2h0M403.1 471.0h0M403.3 467.5h0M413.5 486.7h0M405.4 470.8h0M415.5 484.6h0M410.5 478.0h0M398.4 466.2h0M412.5 483.3h0M408.8 484.7h0M413.4 476.6h0M412.3 481.4h0M414.7 477.1h0M410.2 476.8h0M411.0 479.0h0M410.4 476.6h0M405.9 480.7h0M413.6 478.0h0M406.8 484.1h0M406.9 472.1h0M405.7 476.6h0M415.9 482.5h0M408.3 485.4h0M407.2 484.4h0M414.5 487.2h0M401.1 464.2h0M342.7 483.6h0M341.3 474.7h0M341.6 478.7h0M345.6 484.3h0M341.9 483.3h0M345.6 483.9h0M342.0 470.8h0M341.0 482.4h0M345.9 467.8h0M342.1 464.7h0M342.2 476.9h0M344.9 480.5h0M340.9 484.0h0M341.1 474.4h0M340.9 482.5h0M346.0 465.3h0M344.9 482.4h0M346.1 465.7h0M345.9 468.2h0M345.2 481.4h0M350.5 463.5h0M345.5 463.6h0M344.0 487.8h0M341.3 487.7h0M340.6 474.6h0M347.7 465.1h0M343.3 465.0h0M346.4 464.2h0M345.3 482.0h0M348.4 463.3h0M344.3 474.7h0M342.9 482.3h0M341.0 466.8h0M342.6 475.4h0M344.2 487.6h0M345.4 469.4h0M349.3 465.3h0M343.1 474.2h0M342.1 477.7h0M341.6 464.9h0M381.3 362.4h0M376.3 369.0h0M371.9 397.9h0M374.1 408.7h0M371.6 411.8h0M372.5 414.8h0M367.3 417.3h0M369.8 420.4h0M366.0 423.5h0M379.7 417.3h0M377.2 419.2h0M380.9 420.4h0M382.8 421.7h0M304.7 466.0h0M309.0 468.8h0M304.7 470.7h0M314.6 468.8h0M317.5 470.3h0M320.3 465.3h0M333.5 469.3h0M334.5 477.8h0M339.4 467.4h0M338.7 474.5h0M421.9 469.6h0M424.8 473.8h0M436.5 465.0h0M443.2 466.4h0M436.8 470.3h0M434.7 473.1h0M441.0 473.8h0M445.3 473.8h0M450.2 478.1h0M448.8 485.1h0M422.6 479.5h0M418.4 482.3h0M422.6 485.8h0M428.3 485.8h0M414.2 486.5h0" stroke="#92d050" stroke-width="2.7" stroke-linecap="round" fill="none"/>
<rect x="296.00" y="361.82" width="39.7" height="31.5" fill="#fff" stroke="#404040" stroke-width="1.1"/>
<line x1="296.00" y1="377.42" x2="335.70" y2="377.42" stroke="#404040" stroke-width="1.1"/>
<text transform="translate(315.85 374.42) scale(1 1.15)" font-size="11.2" text-anchor="middle" fill="#111">Down</text>
<text transform="translate(315.85 390.02) scale(1 1.15)" font-size="11.2" text-anchor="middle" fill="#111">109</text>
<rect x="411.38" y="361.82" width="44.2" height="31.5" fill="#fff" stroke="#404040" stroke-width="1.1"/>
<line x1="411.38" y1="377.42" x2="455.58" y2="377.42" stroke="#404040" stroke-width="1.1"/>
<text transform="translate(433.48 374.42) scale(1 1.15)" font-size="11.2" text-anchor="middle" fill="#111">Up</text>
<text transform="translate(433.48 390.02) scale(1 1.15)" font-size="11.2" text-anchor="middle" fill="#111">67</text>
<text transform="translate(585.50 348.00) scale(1 1.08)" font-size="12.7" text-anchor="middle" fill="#1a1a1a">EP+UPA vs E(+)P(+)</text>
<path d="M512.40 360.4V495.9M522.40 360.4V495.9M532.40 360.4V495.9M542.40 360.4V495.9M552.40 360.4V495.9M562.40 360.4V495.9M572.40 360.4V495.9M582.40 360.4V495.9M592.40 360.4V495.9M602.40 360.4V495.9M612.40 360.4V495.9M622.40 360.4V495.9M632.40 360.4V495.9M642.40 360.4V495.9M652.40 360.4V495.9M662.40 360.4V495.9M672.40 360.4V495.9M511.9 495.40H672.9M511.9 483.17H672.9M511.9 470.95H672.9M511.9 458.72H672.9M511.9 446.50H672.9M511.9 434.27H672.9M511.9 422.05H672.9M511.9 409.82H672.9M511.9 397.60H672.9M511.9 385.38H672.9M511.9 373.15H672.9M511.9 360.92H672.9" stroke="#d6d6d6" stroke-width="1.15" fill="none"/>
<path d="M592.40 360.4V495.9M589.40 495.40H592.40M589.40 483.17H592.40M589.40 470.95H592.40M589.40 458.72H592.40M589.40 446.50H592.40M589.40 434.27H592.40M589.40 422.05H592.40M589.40 409.82H592.40M589.40 397.60H592.40M589.40 385.38H592.40M589.40 373.15H592.40M589.40 360.92H592.40" stroke="#bfbfbf" stroke-width="1.15" fill="none"/>
<text x="505.00" y="499.50" font-size="10" text-anchor="end" fill="#1e1e1e" style="stroke-width:0.05px">0</text>
<text x="505.00" y="487.27" font-size="10" text-anchor="end" fill="#1e1e1e" style="stroke-width:0.05px">0.5</text>
<text x="505.00" y="475.05" font-size="10" text-anchor="end" fill="#1e1e1e" style="stroke-width:0.05px">1</text>
<text x="505.00" y="462.82" font-size="10" text-anchor="end" fill="#1e1e1e" style="stroke-width:0.05px">1.5</text>
<text x="505.00" y="450.60" font-size="10" text-anchor="end" fill="#1e1e1e" style="stroke-width:0.05px">2</text>
<text x="505.00" y="438.38" font-size="10" text-anchor="end" fill="#1e1e1e" style="stroke-width:0.05px">2.5</text>
<text x="505.00" y="426.15" font-size="10" text-anchor="end" fill="#1e1e1e" style="stroke-width:0.05px">3</text>
<text x="505.00" y="413.93" font-size="10" text-anchor="end" fill="#1e1e1e" style="stroke-width:0.05px">3.5</text>
<text x="505.00" y="401.70" font-size="10" text-anchor="end" fill="#1e1e1e" style="stroke-width:0.05px">4</text>
<text x="505.00" y="389.48" font-size="10" text-anchor="end" fill="#1e1e1e" style="stroke-width:0.05px">4.5</text>
<text x="505.00" y="377.25" font-size="10" text-anchor="end" fill="#1e1e1e" style="stroke-width:0.05px">5</text>
<text x="505.00" y="365.02" font-size="10" text-anchor="end" fill="#1e1e1e" style="stroke-width:0.05px">5.5</text>
<text transform="translate(512.70 510.80) scale(1 1.08)" font-size="10" text-anchor="middle" fill="#1e1e1e" style="stroke-width:0.05px">-8</text>
<text transform="translate(522.70 510.80) scale(1 1.08)" font-size="10" text-anchor="middle" fill="#1e1e1e" style="stroke-width:0.05px">-7</text>
<text transform="translate(532.70 510.80) scale(1 1.08)" font-size="10" text-anchor="middle" fill="#1e1e1e" style="stroke-width:0.05px">-6</text>
<text transform="translate(542.70 510.80) scale(1 1.08)" font-size="10" text-anchor="middle" fill="#1e1e1e" style="stroke-width:0.05px">-5</text>
<text transform="translate(552.70 510.80) scale(1 1.08)" font-size="10" text-anchor="middle" fill="#1e1e1e" style="stroke-width:0.05px">-4</text>
<text transform="translate(562.70 510.80) scale(1 1.08)" font-size="10" text-anchor="middle" fill="#1e1e1e" style="stroke-width:0.05px">-3</text>
<text transform="translate(572.70 510.80) scale(1 1.08)" font-size="10" text-anchor="middle" fill="#1e1e1e" style="stroke-width:0.05px">-2</text>
<text transform="translate(582.70 510.80) scale(1 1.08)" font-size="10" text-anchor="middle" fill="#1e1e1e" style="stroke-width:0.05px">-1</text>
<text transform="translate(592.70 510.80) scale(1 1.08)" font-size="10" text-anchor="middle" fill="#1e1e1e" style="stroke-width:0.05px">0</text>
<text transform="translate(602.70 510.80) scale(1 1.08)" font-size="10" text-anchor="middle" fill="#1e1e1e" style="stroke-width:0.05px">1</text>
<text transform="translate(612.70 510.80) scale(1 1.08)" font-size="10" text-anchor="middle" fill="#1e1e1e" style="stroke-width:0.05px">2</text>
<text transform="translate(622.70 510.80) scale(1 1.08)" font-size="10" text-anchor="middle" fill="#1e1e1e" style="stroke-width:0.05px">3</text>
<text transform="translate(632.70 510.80) scale(1 1.08)" font-size="10" text-anchor="middle" fill="#1e1e1e" style="stroke-width:0.05px">4</text>
<text transform="translate(642.70 510.80) scale(1 1.08)" font-size="10" text-anchor="middle" fill="#1e1e1e" style="stroke-width:0.05px">5</text>
<text transform="translate(652.70 510.80) scale(1 1.08)" font-size="10" text-anchor="middle" fill="#1e1e1e" style="stroke-width:0.05px">6</text>
<text transform="translate(662.70 510.80) scale(1 1.08)" font-size="10" text-anchor="middle" fill="#1e1e1e" style="stroke-width:0.05px">7</text>
<text transform="translate(672.70 510.80) scale(1 1.08)" font-size="10" text-anchor="middle" fill="#1e1e1e" style="stroke-width:0.05px">8</text>
<text transform="translate(612.20 525.10) scale(1 1.07)" font-size="11.2" text-anchor="middle" fill="#222">Log2 fold change</text>
<text transform="translate(480.2,423.3) rotate(-90)" font-size="11" text-anchor="middle" fill="#111">-Log10 P-val</text>
<path d="M559.1 461.3L583.9 461.3L583.9 430.4L583.9 430.4L582.7 434.7L575.7 437.5L571.4 439.2L568.1 443.3L563.0 452.2ZM600.9 461.3L617.6 461.3L615.9 457.9L611.2 451.6L612.8 441.7L611.6 436.0L609.1 431.1L608.4 431.4L604.1 434.4L600.9 434.4Z" fill="#c00000"/>
<path d="M584.5 436.4h0M574.7 437.0h0M581.3 435.0h0M572.7 437.5h0M584.3 442.7h0M562.4 451.5h0M560.1 456.3h0M555.6 462.3h0M581.7 431.2h0M576.9 463.7h0M585.0 440.4h0M558.5 462.3h0M569.5 440.9h0M561.3 454.8h0M586.3 445.0h0M565.3 444.9h0M570.6 437.5h0M567.9 439.8h0M585.1 452.9h0M585.6 462.4h0M576.2 461.4h0M585.9 443.6h0M578.9 463.1h0M580.2 463.0h0M567.4 443.7h0M569.9 437.8h0M572.5 461.4h0M585.8 454.1h0M570.5 438.1h0M585.1 428.5h0M584.9 456.1h0M571.3 463.0h0M565.3 444.1h0M583.9 429.2h0M558.3 460.2h0M562.2 452.9h0M576.7 435.2h0M561.1 455.2h0M570.1 440.5h0M581.3 432.9h0M584.2 459.9h0M586.3 461.9h0M563.0 451.0h0M584.7 447.6h0M575.6 435.7h0M579.7 433.7h0M577.2 435.4h0M583.9 438.9h0M584.9 463.0h0M566.7 442.2h0M585.2 431.1h0M579.8 435.8h0M584.1 446.8h0M574.1 463.7h0M582.3 428.8h0M559.8 461.9h0M579.8 461.6h0M564.5 448.1h0M573.0 463.3h0M564.9 447.2h0M613.4 450.5h0M610.1 463.1h0M614.5 453.8h0M613.9 442.0h0M605.8 431.1h0M604.8 431.0h0M607.4 429.3h0M600.3 432.5h0M598.7 444.1h0M613.9 435.8h0M612.0 462.4h0M600.4 455.4h0M600.4 450.6h0M600.8 463.0h0M610.4 433.2h0M609.5 430.4h0M618.1 459.8h0M615.3 463.0h0M602.1 462.2h0M599.2 461.4h0M614.4 439.3h0M618.2 462.0h0M598.6 432.4h0M598.4 454.6h0M613.1 444.8h0M608.1 462.2h0M617.4 457.0h0M613.9 446.2h0M615.5 454.9h0M600.1 440.8h0M599.7 462.0h0M602.1 434.3h0M600.9 444.8h0M602.9 461.9h0M599.8 449.4h0M606.2 430.5h0M611.1 432.4h0M619.4 462.5h0M615.7 453.6h0M612.8 433.6h0M613.3 445.0h0M599.7 454.7h0M599.3 440.6h0M612.9 449.5h0M609.9 461.5h0M613.8 434.8h0M612.8 441.4h0M619.4 459.8h0M601.7 462.9h0M613.8 449.0h0M614.2 453.0h0M612.4 433.6h0M566.4 436.5h0M568.0 433.2h0M576.2 422.4h0M560.0 432.0h0M560.2 442.6h0M574.5 430.7h0M562.8 458.0h0M558.3 454.4h0M558.7 436.3h0M561.8 431.5h0M572.8 419.4h0M572.9 433.1h0M580.5 415.6h0M567.3 421.1h0M576.6 433.1h0M558.5 442.8h0M577.3 415.5h0M558.2 458.2h0M552.2 450.5h0M571.9 431.7h0M559.9 442.4h0M566.7 433.4h0M559.5 460.9h0M575.5 434.2h0M558.9 447.7h0M615.7 461.5h0M623.2 453.3h0M615.4 439.3h0M612.1 431.0h0M616.5 442.8h0M620.9 437.3h0M625.5 447.4h0M626.9 461.2h0M610.7 426.9h0M618.5 458.5h0M623.0 447.9h0M619.7 449.2h0M614.6 460.8h0M613.5 437.5h0M620.4 445.8h0M615.7 433.9h0M627.5 454.4h0M614.0 423.5h0M623.9 457.8h0M610.2 424.6h0M570.3 397.7h0M578.0 401.1h0M582.1 409.7h0M579.8 413.2h0M579.6 414.4h0M578.6 419.4h0M581.1 420.3h0M573.6 423.4h0M571.2 425.8h0M571.4 427.5h0M604.6 409.4h0M605.2 417.8h0M606.9 420.9h0M604.0 423.6h0M610.8 425.8h0M613.3 426.5h0M603.4 430.8h0M607.1 430.8h0M609.6 430.2h0M614.5 430.2h0M617.6 433.5h0M617.1 457.7h0M525.7 440.5h0M529.2 454.0h0M530.6 451.9h0M534.2 452.3h0M537.0 454.7h0M522.2 459.6h0M521.4 461.3h0M532.1 460.4h0M537.0 461.1h0M537.7 462.2h0M544.8 457.5h0M546.2 461.8h0M547.6 462.5h0M552.6 458.2h0M551.9 448.3h0M553.3 451.2h0M556.8 441.2h0M556.8 445.2h0M554.0 436.3h0M557.5 434.9h0M561.5 434.2h0M565.3 432.5h0M562.5 441.2h0M625.7 432.0h0M625.7 434.9h0M625.0 441.2h0M625.0 443.4h0M621.7 442.4h0M622.8 447.6h0M624.2 449.0h0M621.7 454.0h0M620.7 458.2h0M623.5 457.1h0M625.0 457.9h0M627.8 461.1h0M629.2 462.5h0M632.5 460.8h0M634.4 457.9h0M638.1 462.2h0M643.3 462.5h0M645.2 457.1h0M645.5 461.3h0M650.0 463.2h0M655.1 457.1h0M661.3 457.5h0" stroke="#c00000" stroke-width="2.7" stroke-linecap="round" fill="none"/>
<path d="M585.6 458.9h0M578.5 444.6h0M581.4 436.2h0M573.7 441.0h0M569.8 463.5h0M560.4 455.5h0M587.1 443.9h0M571.6 438.4h0M572.1 463.3h0M564.9 454.7h0M580.0 459.9h0M576.7 443.3h0M565.8 460.5h0M581.5 435.1h0M585.0 429.2h0M607.7 448.3h0M611.1 449.3h0M617.0 463.6h0M613.9 457.6h0M611.4 444.8h0M617.9 464.7h0M611.4 450.9h0M598.9 459.6h0M613.1 451.0h0M601.4 449.0h0M612.2 432.9h0M607.5 455.1h0" stroke="#fff" stroke-width="1.2" stroke-linecap="round" fill="none" opacity="0.7"/>
<path d="M591.7 494.3L614.7 487.5L627.4 484.8L635.0 484.0L636.5 478.6L633.0 473.4L627.3 468.7L622.9 465.2L601.2 464.6L601.2 429.7L599.7 425.4L598.5 424.1L596.0 424.8L592.5 429.9L588.3 424.8L586.4 424.0L584.6 424.7L583.0 427.4L582.9 464.6L556.8 465.1L554.2 471.4L553.2 480.5L554.8 485.2L558.7 485.8L566.6 486.5L573.0 488.8Z" fill="#92d050"/>
<path d="M601.3 463.2h0M624.9 466.2h0M580.6 491.7h0M601.7 430.3h0M576.6 490.5h0M579.9 491.1h0M633.7 474.2h0M599.1 492.7h0M580.1 491.6h0M553.3 482.4h0M634.3 484.7h0M563.8 464.6h0M631.7 471.8h0M553.3 479.8h0M560.7 486.2h0M582.8 432.7h0M637.2 478.6h0M582.7 427.4h0M582.4 428.1h0M583.0 491.8h0M601.2 428.5h0M611.8 488.6h0M636.6 479.1h0M617.4 487.1h0M556.7 464.9h0M634.7 475.4h0M598.3 423.4h0M585.9 423.7h0M633.2 473.1h0M579.1 490.8h0M602.5 491.5h0M631.7 484.7h0M601.5 454.7h0M593.3 493.9h0M600.9 428.7h0M592.9 428.1h0M571.8 464.3h0M582.8 450.4h0M582.9 437.0h0M582.6 453.1h0M586.1 423.7h0M553.1 476.3h0M610.1 464.7h0M601.3 428.4h0M560.8 465.0h0M621.2 486.4h0M578.5 464.6h0M629.6 485.2h0M580.6 464.1h0M554.6 468.6h0M575.1 489.8h0M582.7 445.2h0M574.9 464.8h0M554.0 470.3h0M569.4 464.7h0M582.9 450.9h0M582.6 431.2h0M568.4 464.8h0M587.8 493.5h0M625.8 467.1h0M555.3 467.3h0M582.7 440.5h0M573.0 489.6h0M629.2 484.8h0M595.3 493.5h0M570.7 488.5h0M596.0 424.7h0M550.9 484.3h0M595.2 422.9h0M591.6 425.9h0M632.6 486.5h0M549.4 476.6h0M584.5 422.2h0M584.2 494.2h0M548.9 479.1h0M572.1 490.5h0M620.0 489.0h0M599.1 421.2h0M624.8 460.6h0M630.6 488.3h0M557.8 487.9h0M615.4 490.8h0M553.9 466.7h0M631.7 468.6h0M584.5 420.9h0M589.9 423.7h0M590.7 422.8h0M628.4 463.5h0M551.6 470.1h0M639.5 483.5h0M627.8 464.5h0M544.6 485.8h0M555.5 473.6h0M522.4 477.3h0M537.1 482.2h0M539.5 478.2h0M545.7 472.4h0M533.6 485.3h0M544.4 479.4h0M519.4 486.3h0M516.0 483.7h0M520.4 477.3h0M542.8 478.0h0M531.8 473.0h0M544.6 478.2h0M545.9 487.4h0M544.5 476.9h0M543.8 480.0h0M519.8 478.3h0M539.8 470.9h0M525.2 473.6h0M529.5 473.4h0M554.0 485.2h0M534.5 470.6h0M552.5 484.5h0M514.9 483.7h0M514.7 484.5h0M538.9 486.1h0M540.7 470.0h0M536.1 485.3h0M530.4 479.8h0M528.9 480.7h0M528.8 472.6h0M514.4 485.9h0M539.5 485.3h0M543.0 473.4h0M517.1 487.0h0M552.2 485.6h0M529.9 479.2h0M545.4 473.8h0M525.2 472.4h0M535.0 475.3h0M550.3 483.9h0M519.8 473.0h0M533.1 486.6h0M549.0 476.1h0M548.5 469.6h0M517.4 485.7h0M521.6 484.0h0M552.2 475.8h0M515.5 486.4h0M550.4 469.3h0M529.3 480.8h0M553.2 478.3h0M525.9 485.6h0M528.4 487.4h0M542.3 486.1h0M529.5 479.5h0M546.5 478.4h0M539.0 479.7h0M554.3 485.9h0M533.1 473.8h0M547.1 477.9h0M527.0 474.0h0M524.4 472.4h0M534.2 474.9h0M519.1 485.4h0M527.2 486.2h0M543.1 486.8h0M543.2 486.5h0M534.0 481.8h0M553.4 482.6h0M517.8 481.4h0M541.0 486.9h0M534.4 477.6h0M537.1 476.4h0M515.6 475.8h0M524.2 486.4h0M527.7 486.9h0M528.8 474.6h0M514.5 483.8h0M517.8 482.1h0M542.7 478.6h0M527.3 485.7h0M545.7 475.0h0M546.3 469.3h0M539.1 481.9h0M553.0 469.0h0M544.6 482.3h0M537.9 470.0h0M552.9 467.8h0M540.6 470.5h0M553.1 470.2h0M537.7 473.0h0M533.0 478.1h0M522.6 472.9h0M525.8 475.2h0M531.3 479.5h0M533.6 472.2h0M551.3 472.2h0M546.2 469.0h0M540.1 483.0h0M545.2 479.5h0M531.4 485.8h0M554.9 479.9h0M538.7 484.2h0M536.3 486.5h0M540.1 477.0h0M523.0 476.5h0M539.4 473.8h0M533.0 473.2h0M539.1 477.1h0M551.3 483.8h0M544.5 484.7h0M519.6 483.6h0M551.4 478.7h0M521.9 485.0h0M527.3 477.4h0M514.8 478.6h0M537.2 470.1h0M522.8 470.6h0M517.9 481.5h0M536.2 483.3h0M536.9 485.7h0M531.1 477.6h0M537.9 478.2h0M533.5 471.3h0M542.9 477.9h0M514.3 482.5h0M517.1 473.5h0M523.0 474.8h0M522.5 480.6h0M518.6 476.0h0M550.6 479.2h0M551.3 472.9h0M537.3 483.4h0M531.5 472.5h0M523.1 470.5h0M551.8 482.7h0M555.4 482.0h0M554.1 476.1h0M549.0 486.1h0M530.3 484.6h0M536.4 477.9h0M525.1 487.5h0M530.3 487.4h0M524.3 481.5h0M545.6 475.6h0M541.9 479.3h0M555.2 468.8h0M550.0 473.6h0M546.3 474.5h0M531.3 472.3h0M548.1 471.3h0M555.3 477.3h0M532.8 487.4h0M545.4 475.5h0M549.2 486.4h0M555.0 470.1h0M519.6 471.6h0M515.3 476.9h0M531.2 474.2h0M529.9 476.2h0M541.2 477.5h0M532.3 469.4h0M554.0 482.6h0M528.4 482.2h0M529.6 484.9h0M526.6 484.6h0M525.4 474.2h0M547.9 474.5h0M643.4 480.7h0M640.2 485.3h0M643.2 478.3h0M663.6 485.4h0M657.0 481.8h0M655.3 484.4h0M644.3 481.8h0M657.6 478.4h0M656.3 477.8h0M658.3 478.1h0M669.0 481.8h0M659.2 474.5h0M651.1 486.0h0M648.8 473.5h0M649.9 473.2h0M665.6 481.6h0M644.5 485.9h0M652.6 476.3h0M667.7 473.5h0M645.6 477.6h0M666.9 476.7h0M656.0 473.6h0M645.2 476.7h0M661.7 483.9h0M663.9 473.3h0M652.3 473.5h0M662.4 476.0h0M670.7 484.1h0M667.6 476.4h0M670.1 483.3h0M641.2 486.3h0M640.9 486.7h0M646.8 475.1h0M662.6 482.8h0M639.0 483.1h0M654.3 478.9h0M655.3 482.6h0M671.2 480.6h0M644.4 482.5h0M651.7 478.0h0M648.5 481.0h0M645.2 484.0h0M651.2 481.5h0M646.8 475.9h0M660.4 476.5h0M654.3 473.2h0M660.2 478.3h0M642.1 478.9h0M644.8 474.0h0M669.2 484.0h0M660.3 483.4h0M637.3 477.2h0M669.4 478.8h0M661.8 483.6h0M642.1 486.4h0M667.5 475.3h0M638.3 485.8h0M668.7 473.5h0M647.7 473.2h0M640.1 481.9h0M639.2 483.2h0M644.1 486.8h0M667.1 484.6h0M642.4 479.3h0M637.7 478.3h0M640.2 483.2h0M669.0 474.6h0M664.5 483.2h0M664.1 482.7h0M652.9 473.8h0M638.8 478.3h0M639.0 480.2h0M653.6 476.9h0M659.8 477.9h0M653.9 485.5h0M655.3 481.9h0M660.5 477.6h0M671.6 476.4h0M648.1 475.2h0M649.3 484.0h0M649.8 474.9h0M658.2 477.3h0M670.8 473.4h0M656.3 474.4h0M670.2 482.5h0M656.0 476.2h0M645.1 480.4h0M669.6 473.8h0M666.6 480.6h0M643.1 475.8h0M640.7 481.8h0M645.7 485.1h0M666.1 475.6h0M658.5 486.6h0M637.4 478.1h0M656.8 473.2h0M645.9 476.6h0M650.6 483.3h0M651.1 476.5h0M653.9 477.1h0M662.1 482.5h0M643.3 486.2h0M648.1 480.9h0M666.4 476.4h0M668.5 481.9h0M644.4 479.0h0M649.0 475.1h0M640.4 474.5h0M638.0 479.0h0M665.7 480.2h0M649.8 482.5h0M652.0 483.3h0M669.6 485.9h0M658.9 485.1h0M644.9 474.5h0M649.6 486.8h0M665.5 481.2h0M642.0 483.3h0M659.8 482.2h0M645.4 474.3h0M644.7 485.3h0M641.8 485.1h0M640.7 485.9h0M652.9 484.9h0M638.0 484.8h0M664.0 481.4h0M647.6 474.1h0M664.8 474.6h0M667.3 477.3h0M655.3 476.5h0M643.6 475.0h0M640.1 475.6h0M670.2 474.4h0M652.8 486.2h0M659.3 477.1h0M656.5 474.7h0M663.5 479.2h0M650.2 477.9h0M650.5 480.5h0M659.6 474.1h0M647.3 484.4h0M647.2 474.3h0M656.4 483.4h0M670.1 475.3h0M657.3 480.0h0M647.8 481.1h0M666.0 476.3h0M641.6 477.8h0M670.0 479.1h0M650.1 480.3h0M654.6 478.9h0M637.0 483.9h0M652.7 481.5h0M669.0 477.7h0M652.9 473.5h0M654.0 483.3h0M669.5 477.8h0M639.3 477.3h0M670.8 473.1h0M638.4 478.5h0M654.0 486.0h0M637.1 476.9h0M668.3 480.4h0M653.2 474.8h0M641.4 480.0h0M656.9 479.4h0M648.6 481.1h0M647.0 474.8h0M669.0 479.9h0M663.0 476.2h0M638.3 475.7h0M662.5 479.1h0M649.7 475.9h0M639.9 482.7h0M667.4 481.3h0M649.9 482.4h0M651.8 478.4h0M668.7 476.9h0M650.1 480.6h0M643.8 482.5h0M666.1 472.4h0M658.1 482.3h0M648.7 485.4h0M647.9 481.8h0M651.1 475.9h0M659.9 477.0h0M641.4 481.8h0M670.5 477.7h0M663.6 471.7h0M650.0 478.8h0M649.7 482.7h0M646.1 475.6h0M637.0 485.3h0M640.0 474.7h0M659.7 486.4h0M649.2 484.2h0M638.8 482.5h0M663.4 474.9h0M641.3 479.5h0M641.7 479.8h0M550.1 479.5h0M545.8 484.9h0M545.7 483.9h0M549.6 478.3h0M552.8 469.7h0M545.4 485.4h0M546.5 471.5h0M545.6 474.0h0M547.8 476.0h0M549.3 482.5h0M552.1 469.6h0M547.5 477.0h0M551.6 473.3h0M549.4 482.9h0M546.5 481.2h0M546.6 483.0h0M547.3 483.6h0M550.2 482.8h0M548.2 473.6h0M550.3 477.2h0M547.9 484.1h0M548.2 482.7h0M547.4 473.3h0M547.1 471.6h0M548.0 474.9h0M630.7 477.5h0M625.3 471.9h0M628.3 466.6h0M622.0 470.6h0M620.0 468.3h0M625.5 465.5h0M630.2 471.9h0M632.8 468.8h0M621.7 468.5h0M626.2 475.9h0M625.9 471.1h0M632.3 466.1h0M633.4 485.2h0M629.1 479.8h0M632.9 475.8h0M622.5 469.5h0M627.3 468.4h0M633.2 464.5h0M623.1 471.3h0M622.9 469.9h0M626.5 472.0h0M625.9 473.1h0M621.4 468.3h0M630.3 471.9h0M623.1 471.2h0M585.5 417.0h0M590.7 422.4h0M586.8 423.2h0M590.2 423.1h0M582.8 426.8h0M582.7 416.4h0M583.2 419.7h0M588.3 416.4h0M583.1 420.4h0M590.3 415.5h0M590.7 417.7h0M590.5 417.4h0M590.9 426.8h0M591.2 424.3h0M581.7 420.8h0M585.3 419.4h0M586.6 420.7h0M585.3 416.4h0M585.8 418.5h0M590.2 415.0h0M582.8 421.5h0M582.3 418.2h0M588.7 426.6h0M585.2 415.0h0M586.2 419.1h0M594.1 423.1h0M601.1 418.6h0M597.1 425.9h0M596.1 423.8h0M594.1 425.6h0M597.6 417.2h0M594.7 421.7h0M600.5 422.6h0M597.1 418.0h0M600.9 424.4h0M601.4 418.6h0M595.4 418.1h0M596.5 424.9h0M596.5 422.7h0M599.9 425.4h0M598.4 422.4h0M597.0 424.5h0M597.6 426.6h0M601.7 420.0h0M602.3 426.2h0M597.6 385.8h0M597.2 398.0h0M597.2 398.6h0M585.4 402.3h0M585.8 404.5h0M594.5 403.3h0M595.7 411.0h0M599.4 409.1h0M599.0 413.2h0M599.7 411.6h0M596.0 416.9h0M587.9 413.5h0M589.8 415.9h0M583.6 416.5h0M586.7 418.4h0M601.5 417.2h0M588.5 422.1h0M584.8 422.7h0M597.2 422.7h0M600.9 422.1h0M514.4 463.9h0M517.9 465.3h0M527.1 468.1h0M518.6 473.8h0M635.3 465.0h0M651.4 466.0h0M666.7 466.0h0M672.4 473.8h0M670.2 478.1h0M668.8 482.3h0" stroke="#92d050" stroke-width="2.7" stroke-linecap="round" fill="none"/>
<rect x="512.20" y="361.82" width="40.1" height="31.5" fill="#fff" stroke="#404040" stroke-width="1.1"/>
<line x1="512.20" y1="377.42" x2="552.30" y2="377.42" stroke="#404040" stroke-width="1.1"/>
<text transform="translate(532.25 374.42) scale(1 1.15)" font-size="11.2" text-anchor="middle" fill="#111">Down</text>
<text transform="translate(532.25 390.02) scale(1 1.15)" font-size="11.2" text-anchor="middle" fill="#111">426</text>
<rect x="628.30" y="361.82" width="43.8" height="31.5" fill="#fff" stroke="#404040" stroke-width="1.1"/>
<line x1="628.30" y1="377.42" x2="672.10" y2="377.42" stroke="#404040" stroke-width="1.1"/>
<text transform="translate(650.20 374.42) scale(1 1.15)" font-size="11.2" text-anchor="middle" fill="#111">Up</text>
<text transform="translate(650.20 390.02) scale(1 1.15)" font-size="11.2" text-anchor="middle" fill="#111">266</text>
<rect x="538.5" y="538.5" width="136" height="23" fill="#fff" stroke="#8c8c8c" stroke-width="1"/>
<circle cx="550" cy="552.2" r="5.8" fill="#c00000"/>
<text x="560" y="556.5" font-size="11" fill="#111">: DEG</text>
<circle cx="606.3" cy="552.2" r="5.8" fill="#92d050"/>
<text x="617.3" y="556.5" font-size="11" fill="#111">: non-DEG</text>
</svg>
</body></html>
